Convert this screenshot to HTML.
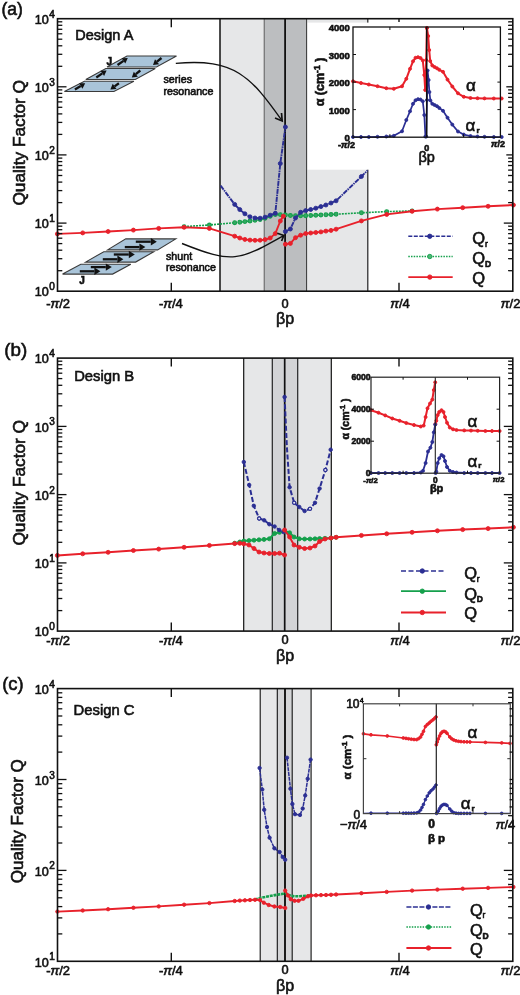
<!DOCTYPE html>
<html><head><meta charset="utf-8"><title>Quality factor figure</title>
<style>html,body{margin:0;padding:0;background:#fff}svg{display:block}text{font-family:"Liberation Sans", sans-serif;fill:#111;stroke:#111;stroke-width:0.6px}</style>
</head><body>
<svg width="520" height="995" viewBox="0 0 520 995">
<rect x="0" y="0" width="520" height="995" fill="#fff"/>
<rect x="220.0" y="18.7" width="44.0" height="272.5" fill="#e6e7e8" stroke="none" stroke-width="0"/>
<rect x="264.0" y="18.7" width="42.5" height="272.5" fill="#bcbec0" stroke="none" stroke-width="0"/>
<rect x="306.5" y="18.7" width="61.5" height="272.5" fill="#e6e7e8" stroke="none" stroke-width="0"/>
<line x1="367.8" y1="18.7" x2="367.8" y2="291.2" stroke="#222" stroke-width="1.2"/>
<rect x="307.3" y="22.6" width="205.5" height="147.1" fill="#fff" stroke="none" stroke-width="0"/>
<line x1="220.0" y1="18.7" x2="220.0" y2="291.2" stroke="#111" stroke-width="1.5"/>
<line x1="264.2" y1="18.7" x2="264.2" y2="291.2" stroke="#555" stroke-width="0.9"/>
<line x1="306.6" y1="18.7" x2="306.6" y2="291.2" stroke="#333" stroke-width="1.0"/>
<line x1="285.1" y1="18.7" x2="285.1" y2="291.2" stroke="#111" stroke-width="1.8"/>
<polyline points="184.1,226.6 209.4,225.0 234.7,222.7 239.8,222.2 244.9,221.6 250.0,221.0 255.0,220.3 260.1,219.5 265.1,218.3 270.2,216.3 275.3,214.6 280.3,214.6 285.4,215.0 290.4,215.5 295.5,215.8 300.6,215.8 305.7,215.7 310.7,215.5 315.8,215.3 320.9,215.0 325.9,214.8 331.0,214.5 336.1,214.2 361.4,212.8 386.7,211.6 412.1,210.9" fill="none" stroke="#15a04c" stroke-width="1.6" stroke-linejoin="round" stroke-dasharray="2,1"/>
<circle cx="184.1" cy="226.6" r="1.9" fill="#35a862" stroke="#15a04c" stroke-width="1.1"/>
<circle cx="209.4" cy="225.0" r="1.9" fill="#35a862" stroke="#15a04c" stroke-width="1.1"/>
<circle cx="234.7" cy="222.7" r="1.9" fill="#35a862" stroke="#15a04c" stroke-width="1.1"/>
<circle cx="239.8" cy="222.2" r="1.9" fill="#35a862" stroke="#15a04c" stroke-width="1.1"/>
<circle cx="244.9" cy="221.6" r="1.9" fill="#35a862" stroke="#15a04c" stroke-width="1.1"/>
<circle cx="250.0" cy="221.0" r="1.9" fill="#35a862" stroke="#15a04c" stroke-width="1.1"/>
<circle cx="255.0" cy="220.3" r="1.9" fill="#35a862" stroke="#15a04c" stroke-width="1.1"/>
<circle cx="260.1" cy="219.5" r="1.9" fill="#35a862" stroke="#15a04c" stroke-width="1.1"/>
<circle cx="265.1" cy="218.3" r="1.9" fill="#35a862" stroke="#15a04c" stroke-width="1.1"/>
<circle cx="270.2" cy="216.3" r="1.9" fill="#35a862" stroke="#15a04c" stroke-width="1.1"/>
<circle cx="275.3" cy="214.6" r="1.9" fill="#35a862" stroke="#15a04c" stroke-width="1.1"/>
<circle cx="280.3" cy="214.6" r="1.9" fill="#35a862" stroke="#15a04c" stroke-width="1.1"/>
<circle cx="285.4" cy="215.0" r="1.9" fill="#35a862" stroke="#15a04c" stroke-width="1.1"/>
<circle cx="290.4" cy="215.5" r="1.9" fill="#35a862" stroke="#15a04c" stroke-width="1.1"/>
<circle cx="295.5" cy="215.8" r="1.9" fill="#35a862" stroke="#15a04c" stroke-width="1.1"/>
<circle cx="300.6" cy="215.8" r="1.9" fill="#35a862" stroke="#15a04c" stroke-width="1.1"/>
<circle cx="305.7" cy="215.7" r="1.9" fill="#35a862" stroke="#15a04c" stroke-width="1.1"/>
<circle cx="310.7" cy="215.5" r="1.9" fill="#35a862" stroke="#15a04c" stroke-width="1.1"/>
<circle cx="315.8" cy="215.3" r="1.9" fill="#35a862" stroke="#15a04c" stroke-width="1.1"/>
<circle cx="320.9" cy="215.0" r="1.9" fill="#35a862" stroke="#15a04c" stroke-width="1.1"/>
<circle cx="325.9" cy="214.8" r="1.9" fill="#35a862" stroke="#15a04c" stroke-width="1.1"/>
<circle cx="331.0" cy="214.5" r="1.9" fill="#35a862" stroke="#15a04c" stroke-width="1.1"/>
<circle cx="336.1" cy="214.2" r="1.9" fill="#35a862" stroke="#15a04c" stroke-width="1.1"/>
<circle cx="361.4" cy="212.8" r="1.9" fill="#35a862" stroke="#15a04c" stroke-width="1.1"/>
<circle cx="386.7" cy="211.6" r="1.9" fill="#35a862" stroke="#15a04c" stroke-width="1.1"/>
<circle cx="412.1" cy="210.9" r="1.9" fill="#35a862" stroke="#15a04c" stroke-width="1.1"/>
<polyline points="220.6,185.6 234.7,204.4 239.8,209.6 244.9,213.8 250.0,216.8 255.0,218.0 260.1,218.2 265.1,217.2 270.2,215.2 275.3,213.3 280.3,163.5 285.4,127.0" fill="none" stroke="#2b2f93" stroke-width="1.9" stroke-linejoin="round" stroke-dasharray="5,0.8,1.5,0.8"/>
<circle cx="234.7" cy="204.4" r="2.0" fill="#2b2f93" stroke="#2b2f93" stroke-width="0.9"/>
<circle cx="239.8" cy="209.6" r="2.0" fill="#2b2f93" stroke="#2b2f93" stroke-width="0.9"/>
<circle cx="244.9" cy="213.8" r="2.0" fill="#2b2f93" stroke="#2b2f93" stroke-width="0.9"/>
<circle cx="250.0" cy="216.8" r="2.0" fill="#2b2f93" stroke="#2b2f93" stroke-width="0.9"/>
<circle cx="255.0" cy="218.0" r="2.0" fill="#2b2f93" stroke="#2b2f93" stroke-width="0.9"/>
<circle cx="260.1" cy="218.2" r="2.0" fill="#2b2f93" stroke="#2b2f93" stroke-width="0.9"/>
<circle cx="265.1" cy="217.2" r="2.0" fill="#2b2f93" stroke="#2b2f93" stroke-width="0.9"/>
<circle cx="270.2" cy="215.2" r="2.0" fill="#2b2f93" stroke="#2b2f93" stroke-width="0.9"/>
<circle cx="275.3" cy="213.3" r="2.0" fill="#2b2f93" stroke="#2b2f93" stroke-width="0.9"/>
<circle cx="280.3" cy="163.5" r="2.0" fill="#2b2f93" stroke="#2b2f93" stroke-width="0.9"/>
<circle cx="285.4" cy="127.0" r="2.0" fill="#2b2f93" stroke="#2b2f93" stroke-width="0.9"/>
<polyline points="285.4,231.5 290.4,229.0 295.5,218.0 300.6,212.3 305.7,210.6 310.7,209.5 315.8,208.2 320.9,206.6 325.9,205.0 331.0,203.0 336.1,200.8 361.4,176.5 367.5,170.5" fill="none" stroke="#2b2f93" stroke-width="1.9" stroke-linejoin="round" stroke-dasharray="5,0.8,1.5,0.8"/>
<circle cx="285.4" cy="231.5" r="2.0" fill="#2b2f93" stroke="#2b2f93" stroke-width="0.9"/>
<circle cx="290.4" cy="229.0" r="2.0" fill="#2b2f93" stroke="#2b2f93" stroke-width="0.9"/>
<circle cx="295.5" cy="218.0" r="2.0" fill="#2b2f93" stroke="#2b2f93" stroke-width="0.9"/>
<circle cx="300.6" cy="212.3" r="2.0" fill="#2b2f93" stroke="#2b2f93" stroke-width="0.9"/>
<circle cx="305.7" cy="210.6" r="2.0" fill="#2b2f93" stroke="#2b2f93" stroke-width="0.9"/>
<circle cx="310.7" cy="209.5" r="2.0" fill="#2b2f93" stroke="#2b2f93" stroke-width="0.9"/>
<circle cx="315.8" cy="208.2" r="2.0" fill="#2b2f93" stroke="#2b2f93" stroke-width="0.9"/>
<circle cx="320.9" cy="206.6" r="2.0" fill="#2b2f93" stroke="#2b2f93" stroke-width="0.9"/>
<circle cx="325.9" cy="205.0" r="2.0" fill="#2b2f93" stroke="#2b2f93" stroke-width="0.9"/>
<circle cx="331.0" cy="203.0" r="2.0" fill="#2b2f93" stroke="#2b2f93" stroke-width="0.9"/>
<circle cx="336.1" cy="200.8" r="2.0" fill="#2b2f93" stroke="#2b2f93" stroke-width="0.9"/>
<circle cx="361.4" cy="176.5" r="2.0" fill="#2b2f93" stroke="#2b2f93" stroke-width="0.9"/>
<polyline points="57.4,233.9 82.7,232.9 108.1,231.5 133.4,230.1 158.7,228.4 184.1,227.3 209.4,228.4 234.7,236.2 239.8,238.0 244.9,239.4 250.0,240.1 255.0,240.3 260.1,240.2 265.1,239.6 270.2,238.0 275.3,233.6 280.3,221.0 283.3,216.2 285.4,216.0" fill="none" stroke="#e8212b" stroke-width="1.9" stroke-linejoin="round"/>
<circle cx="57.4" cy="233.9" r="2.0" fill="#e8212b" stroke="#e8212b" stroke-width="0.9"/>
<circle cx="82.7" cy="232.9" r="2.0" fill="#e8212b" stroke="#e8212b" stroke-width="0.9"/>
<circle cx="108.1" cy="231.5" r="2.0" fill="#e8212b" stroke="#e8212b" stroke-width="0.9"/>
<circle cx="133.4" cy="230.1" r="2.0" fill="#e8212b" stroke="#e8212b" stroke-width="0.9"/>
<circle cx="158.7" cy="228.4" r="2.0" fill="#e8212b" stroke="#e8212b" stroke-width="0.9"/>
<circle cx="184.1" cy="227.3" r="2.0" fill="#e8212b" stroke="#e8212b" stroke-width="0.9"/>
<circle cx="209.4" cy="228.4" r="2.0" fill="#e8212b" stroke="#e8212b" stroke-width="0.9"/>
<circle cx="234.7" cy="236.2" r="2.0" fill="#e8212b" stroke="#e8212b" stroke-width="0.9"/>
<circle cx="239.8" cy="238.0" r="2.0" fill="#e8212b" stroke="#e8212b" stroke-width="0.9"/>
<circle cx="244.9" cy="239.4" r="2.0" fill="#e8212b" stroke="#e8212b" stroke-width="0.9"/>
<circle cx="250.0" cy="240.1" r="2.0" fill="#e8212b" stroke="#e8212b" stroke-width="0.9"/>
<circle cx="255.0" cy="240.3" r="2.0" fill="#e8212b" stroke="#e8212b" stroke-width="0.9"/>
<circle cx="260.1" cy="240.2" r="2.0" fill="#e8212b" stroke="#e8212b" stroke-width="0.9"/>
<circle cx="265.1" cy="239.6" r="2.0" fill="#e8212b" stroke="#e8212b" stroke-width="0.9"/>
<circle cx="270.2" cy="238.0" r="2.0" fill="#e8212b" stroke="#e8212b" stroke-width="0.9"/>
<circle cx="275.3" cy="233.6" r="2.0" fill="#e8212b" stroke="#e8212b" stroke-width="0.9"/>
<circle cx="280.3" cy="221.0" r="2.0" fill="#e8212b" stroke="#e8212b" stroke-width="0.9"/>
<circle cx="283.3" cy="216.2" r="2.0" fill="#e8212b" stroke="#e8212b" stroke-width="0.9"/>
<polyline points="285.4,244.2 290.4,243.4 295.5,237.7 300.6,235.2 305.7,233.6 310.7,233.0 315.8,232.5 320.9,231.9 325.9,231.1 331.0,230.4 336.1,229.2 361.4,220.9 386.7,214.4 412.1,211.3 437.4,209.1 462.7,207.7 488.1,206.3 513.4,205.0" fill="none" stroke="#e8212b" stroke-width="1.9" stroke-linejoin="round"/>
<circle cx="285.4" cy="244.2" r="2.0" fill="#e8212b" stroke="#e8212b" stroke-width="0.9"/>
<circle cx="290.4" cy="243.4" r="2.0" fill="#e8212b" stroke="#e8212b" stroke-width="0.9"/>
<circle cx="295.5" cy="237.7" r="2.0" fill="#e8212b" stroke="#e8212b" stroke-width="0.9"/>
<circle cx="300.6" cy="235.2" r="2.0" fill="#e8212b" stroke="#e8212b" stroke-width="0.9"/>
<circle cx="305.7" cy="233.6" r="2.0" fill="#e8212b" stroke="#e8212b" stroke-width="0.9"/>
<circle cx="310.7" cy="233.0" r="2.0" fill="#e8212b" stroke="#e8212b" stroke-width="0.9"/>
<circle cx="315.8" cy="232.5" r="2.0" fill="#e8212b" stroke="#e8212b" stroke-width="0.9"/>
<circle cx="320.9" cy="231.9" r="2.0" fill="#e8212b" stroke="#e8212b" stroke-width="0.9"/>
<circle cx="325.9" cy="231.1" r="2.0" fill="#e8212b" stroke="#e8212b" stroke-width="0.9"/>
<circle cx="331.0" cy="230.4" r="2.0" fill="#e8212b" stroke="#e8212b" stroke-width="0.9"/>
<circle cx="336.1" cy="229.2" r="2.0" fill="#e8212b" stroke="#e8212b" stroke-width="0.9"/>
<circle cx="361.4" cy="220.9" r="2.0" fill="#e8212b" stroke="#e8212b" stroke-width="0.9"/>
<circle cx="386.7" cy="214.4" r="2.0" fill="#e8212b" stroke="#e8212b" stroke-width="0.9"/>
<circle cx="412.1" cy="211.3" r="2.0" fill="#e8212b" stroke="#e8212b" stroke-width="0.9"/>
<circle cx="437.4" cy="209.1" r="2.0" fill="#e8212b" stroke="#e8212b" stroke-width="0.9"/>
<circle cx="462.7" cy="207.7" r="2.0" fill="#e8212b" stroke="#e8212b" stroke-width="0.9"/>
<circle cx="488.1" cy="206.3" r="2.0" fill="#e8212b" stroke="#e8212b" stroke-width="0.9"/>
<circle cx="513.4" cy="205.0" r="2.0" fill="#e8212b" stroke="#e8212b" stroke-width="0.9"/>
<polygon points="127.0,56.0 176.5,56.0 156.5,67.0 107.0,67.0" fill="#a9c4d9" stroke="#3a3a3a" stroke-width="1.1" stroke-linejoin="miter"/>
<line x1="117.5" y1="65.0" x2="123.5" y2="60.9" stroke="#111" stroke-width="2.3"/>
<polygon points="127.8,58.0 125.3,63.6 121.7,58.3" fill="#111"/>
<line x1="161.5" y1="58.0" x2="157.0" y2="61.7" stroke="#111" stroke-width="2.3"/>
<polygon points="153.0,65.0 155.0,59.2 159.1,64.2" fill="#111"/>
<polygon points="105.8,68.5 155.3,68.5 135.3,79.5 85.8,79.5" fill="#a9c4d9" stroke="#3a3a3a" stroke-width="1.1" stroke-linejoin="miter"/>
<line x1="96.3" y1="77.5" x2="102.3" y2="73.4" stroke="#111" stroke-width="2.3"/>
<polygon points="106.6,70.5 104.1,76.1 100.5,70.8" fill="#111"/>
<line x1="140.3" y1="70.5" x2="135.8" y2="74.2" stroke="#111" stroke-width="2.3"/>
<polygon points="131.8,77.5 133.8,71.7 137.9,76.7" fill="#111"/>
<polygon points="84.4,81.3 133.9,81.3 113.9,91.5 64.4,91.5" fill="#a9c4d9" stroke="#3a3a3a" stroke-width="1.1" stroke-linejoin="miter"/>
<line x1="74.9" y1="89.5" x2="80.7" y2="86.0" stroke="#111" stroke-width="2.3"/>
<polygon points="85.2,83.3 82.4,88.7 79.1,83.2" fill="#111"/>
<line x1="118.9" y1="83.3" x2="114.6" y2="86.4" stroke="#111" stroke-width="2.3"/>
<polygon points="110.4,89.5 112.7,83.8 116.5,89.0" fill="#111"/>
<text x="109.3" y="64.6" font-size="10" text-anchor="middle" font-weight="bold" stroke-width="0.15" >J</text>
<text x="163.5" y="83.4" font-size="10.7" text-anchor="start" font-weight="normal" stroke-width="0.8" >series</text>
<text x="163.5" y="95.0" font-size="10.7" text-anchor="start" font-weight="normal" stroke-width="0.8" >resonance</text>
<path d="M175.8,63.4 C234.7,58 250.8,76.6 282,120.6" fill="none" stroke="#111" stroke-width="1.4"/>
<polyline points="275,118 282.2,121 281.5,113" fill="none" stroke="#111" stroke-width="1.7" stroke-linejoin="miter"/>
<polygon points="125.8,238.9 175.8,238.9 157.6,249.9 107.6,249.9" fill="#a9c4d9" stroke="#3a3a3a" stroke-width="1.1" stroke-linejoin="miter"/>
<line x1="135.8" y1="241.7" x2="150.8" y2="241.7" stroke="#111" stroke-width="2.3"/>
<polygon points="156.8,241.7 150.8,245.4 150.8,238.0" fill="#111"/>
<line x1="124.8" y1="247.1" x2="139.4" y2="247.1" stroke="#111" stroke-width="2.3"/>
<polygon points="145.4,247.1 139.4,250.8 139.4,243.4" fill="#111"/>
<polygon points="103.8,251.7 153.8,251.7 135.6,262.1 85.6,262.1" fill="#a9c4d9" stroke="#3a3a3a" stroke-width="1.1" stroke-linejoin="miter"/>
<line x1="113.8" y1="254.5" x2="128.8" y2="254.5" stroke="#111" stroke-width="2.3"/>
<polygon points="134.8,254.5 128.8,258.2 128.8,250.8" fill="#111"/>
<line x1="102.8" y1="259.3" x2="117.4" y2="259.3" stroke="#111" stroke-width="2.3"/>
<polygon points="123.4,259.3 117.4,263.0 117.4,255.6" fill="#111"/>
<polygon points="80.8,264.3 130.8,264.3 112.6,274.1 62.6,274.1" fill="#a9c4d9" stroke="#3a3a3a" stroke-width="1.1" stroke-linejoin="miter"/>
<line x1="90.8" y1="267.1" x2="105.8" y2="267.1" stroke="#111" stroke-width="2.3"/>
<polygon points="111.8,267.1 105.8,270.8 105.8,263.4" fill="#111"/>
<line x1="79.8" y1="271.3" x2="94.4" y2="271.3" stroke="#111" stroke-width="2.3"/>
<polygon points="100.4,271.3 94.4,275.0 94.4,267.6" fill="#111"/>
<text x="82.0" y="284.3" font-size="10" text-anchor="middle" font-weight="bold" stroke-width="0.15" >J</text>
<text x="166.0" y="259.6" font-size="10.7" text-anchor="start" font-weight="normal" stroke-width="0.8" >shunt</text>
<text x="166.0" y="270.8" font-size="10.7" text-anchor="start" font-weight="normal" stroke-width="0.8" >resonance</text>
<path d="M182,243.5 C233.1,263.9 238.6,260.8 283.3,235.8" fill="none" stroke="#111" stroke-width="1.4"/>
<polyline points="277.3,233.3 283.8,235.5 281.6,241" fill="none" stroke="#111" stroke-width="1.7" stroke-linejoin="miter"/>
<text x="75.3" y="40.2" font-size="14.5" text-anchor="start" font-weight="normal" stroke-width="0.8" >Design A</text>
<polyline points="353.0,81.3 361.0,83.0 368.8,84.5 377.5,86.2 386.3,88.2 393.8,88.8 402.0,86.3 406.3,78.8 410.0,68.8 413.0,61.3 415.5,57.8 418.0,57.2 420.5,58.0 422.8,60.5 424.3,75.0 425.2,90.0 426.2,60.0 426.9,28.0" fill="none" stroke="#e8212b" stroke-width="2.0" stroke-linejoin="round"/>
<circle cx="353.0" cy="81.3" r="1.5" fill="#e8212b" stroke="#e8212b" stroke-width="0.9"/>
<circle cx="361.0" cy="83.0" r="1.5" fill="#e8212b" stroke="#e8212b" stroke-width="0.9"/>
<circle cx="368.8" cy="84.5" r="1.5" fill="#e8212b" stroke="#e8212b" stroke-width="0.9"/>
<circle cx="377.5" cy="86.2" r="1.5" fill="#e8212b" stroke="#e8212b" stroke-width="0.9"/>
<circle cx="386.3" cy="88.2" r="1.5" fill="#e8212b" stroke="#e8212b" stroke-width="0.9"/>
<circle cx="393.8" cy="88.8" r="1.5" fill="#e8212b" stroke="#e8212b" stroke-width="0.9"/>
<circle cx="402.0" cy="86.3" r="1.5" fill="#e8212b" stroke="#e8212b" stroke-width="0.9"/>
<circle cx="406.3" cy="78.8" r="1.5" fill="#e8212b" stroke="#e8212b" stroke-width="0.9"/>
<circle cx="410.0" cy="68.8" r="1.5" fill="#e8212b" stroke="#e8212b" stroke-width="0.9"/>
<circle cx="413.0" cy="61.3" r="1.5" fill="#e8212b" stroke="#e8212b" stroke-width="0.9"/>
<circle cx="415.5" cy="57.8" r="1.5" fill="#e8212b" stroke="#e8212b" stroke-width="0.9"/>
<circle cx="418.0" cy="57.2" r="1.5" fill="#e8212b" stroke="#e8212b" stroke-width="0.9"/>
<circle cx="420.5" cy="58.0" r="1.5" fill="#e8212b" stroke="#e8212b" stroke-width="0.9"/>
<circle cx="422.8" cy="60.5" r="1.5" fill="#e8212b" stroke="#e8212b" stroke-width="0.9"/>
<circle cx="424.3" cy="75.0" r="1.5" fill="#e8212b" stroke="#e8212b" stroke-width="0.9"/>
<circle cx="425.2" cy="90.0" r="1.5" fill="#e8212b" stroke="#e8212b" stroke-width="0.9"/>
<circle cx="426.2" cy="60.0" r="1.5" fill="#e8212b" stroke="#e8212b" stroke-width="0.9"/>
<circle cx="426.9" cy="28.0" r="1.5" fill="#e8212b" stroke="#e8212b" stroke-width="0.9"/>
<polyline points="426.9,28.0 428.2,36.0 429.2,50.0 430.2,61.0 432.3,65.5 434.6,67.0 437.0,68.3 439.3,69.8 443.0,71.8 447.5,79.6 452.3,86.5 458.0,93.3 463.8,96.8 470.5,98.0 477.5,98.2 484.5,98.4 493.8,98.5 501.7,98.5" fill="none" stroke="#e8212b" stroke-width="2.0" stroke-linejoin="round"/>
<circle cx="426.9" cy="28.0" r="1.5" fill="#e8212b" stroke="#e8212b" stroke-width="0.9"/>
<circle cx="428.2" cy="36.0" r="1.5" fill="#e8212b" stroke="#e8212b" stroke-width="0.9"/>
<circle cx="429.2" cy="50.0" r="1.5" fill="#e8212b" stroke="#e8212b" stroke-width="0.9"/>
<circle cx="430.2" cy="61.0" r="1.5" fill="#e8212b" stroke="#e8212b" stroke-width="0.9"/>
<circle cx="432.3" cy="65.5" r="1.5" fill="#e8212b" stroke="#e8212b" stroke-width="0.9"/>
<circle cx="434.6" cy="67.0" r="1.5" fill="#e8212b" stroke="#e8212b" stroke-width="0.9"/>
<circle cx="437.0" cy="68.3" r="1.5" fill="#e8212b" stroke="#e8212b" stroke-width="0.9"/>
<circle cx="439.3" cy="69.8" r="1.5" fill="#e8212b" stroke="#e8212b" stroke-width="0.9"/>
<circle cx="443.0" cy="71.8" r="1.5" fill="#e8212b" stroke="#e8212b" stroke-width="0.9"/>
<circle cx="447.5" cy="79.6" r="1.5" fill="#e8212b" stroke="#e8212b" stroke-width="0.9"/>
<circle cx="452.3" cy="86.5" r="1.5" fill="#e8212b" stroke="#e8212b" stroke-width="0.9"/>
<circle cx="458.0" cy="93.3" r="1.5" fill="#e8212b" stroke="#e8212b" stroke-width="0.9"/>
<circle cx="463.8" cy="96.8" r="1.5" fill="#e8212b" stroke="#e8212b" stroke-width="0.9"/>
<circle cx="470.5" cy="98.0" r="1.5" fill="#e8212b" stroke="#e8212b" stroke-width="0.9"/>
<circle cx="477.5" cy="98.2" r="1.5" fill="#e8212b" stroke="#e8212b" stroke-width="0.9"/>
<circle cx="484.5" cy="98.4" r="1.5" fill="#e8212b" stroke="#e8212b" stroke-width="0.9"/>
<circle cx="493.8" cy="98.5" r="1.5" fill="#e8212b" stroke="#e8212b" stroke-width="0.9"/>
<circle cx="501.7" cy="98.5" r="1.5" fill="#e8212b" stroke="#e8212b" stroke-width="0.9"/>
<polyline points="353.0,137.0 361.0,137.0 368.8,137.0 377.5,136.8 386.3,136.5 393.8,135.8 402.0,131.3 406.3,120.0 410.0,111.3 413.0,103.8 415.5,100.3 418.0,99.2 420.5,99.5 422.8,101.3 424.3,115.0 425.4,136.5" fill="none" stroke="#2b2f93" stroke-width="1.7" stroke-linejoin="round"/>
<circle cx="353.0" cy="137.0" r="1.5" fill="#2b2f93" stroke="#2b2f93" stroke-width="0.9"/>
<circle cx="361.0" cy="137.0" r="1.5" fill="#2b2f93" stroke="#2b2f93" stroke-width="0.9"/>
<circle cx="368.8" cy="137.0" r="1.5" fill="#2b2f93" stroke="#2b2f93" stroke-width="0.9"/>
<circle cx="377.5" cy="136.8" r="1.5" fill="#2b2f93" stroke="#2b2f93" stroke-width="0.9"/>
<circle cx="386.3" cy="136.5" r="1.5" fill="#2b2f93" stroke="#2b2f93" stroke-width="0.9"/>
<circle cx="393.8" cy="135.8" r="1.5" fill="#2b2f93" stroke="#2b2f93" stroke-width="0.9"/>
<circle cx="402.0" cy="131.3" r="1.5" fill="#2b2f93" stroke="#2b2f93" stroke-width="0.9"/>
<circle cx="406.3" cy="120.0" r="1.5" fill="#2b2f93" stroke="#2b2f93" stroke-width="0.9"/>
<circle cx="410.0" cy="111.3" r="1.5" fill="#2b2f93" stroke="#2b2f93" stroke-width="0.9"/>
<circle cx="413.0" cy="103.8" r="1.5" fill="#2b2f93" stroke="#2b2f93" stroke-width="0.9"/>
<circle cx="415.5" cy="100.3" r="1.5" fill="#2b2f93" stroke="#2b2f93" stroke-width="0.9"/>
<circle cx="418.0" cy="99.2" r="1.5" fill="#2b2f93" stroke="#2b2f93" stroke-width="0.9"/>
<circle cx="420.5" cy="99.5" r="1.5" fill="#2b2f93" stroke="#2b2f93" stroke-width="0.9"/>
<circle cx="422.8" cy="101.3" r="1.5" fill="#2b2f93" stroke="#2b2f93" stroke-width="0.9"/>
<circle cx="424.3" cy="115.0" r="1.5" fill="#2b2f93" stroke="#2b2f93" stroke-width="0.9"/>
<circle cx="425.4" cy="136.5" r="1.5" fill="#2b2f93" stroke="#2b2f93" stroke-width="0.9"/>
<polyline points="426.2,136.5 427.0,100.0 427.6,70.5 428.6,80.0 429.4,92.0 430.4,100.4 432.3,103.8 434.6,105.0 437.0,106.2 439.3,108.0 443.0,110.8 447.5,117.7 452.3,124.6 458.0,131.5 463.8,134.6 470.5,136.0 477.5,136.5 484.5,136.8 493.8,137.0 501.7,137.0" fill="none" stroke="#2b2f93" stroke-width="1.7" stroke-linejoin="round"/>
<circle cx="426.2" cy="136.5" r="1.5" fill="#2b2f93" stroke="#2b2f93" stroke-width="0.9"/>
<circle cx="427.0" cy="100.0" r="1.5" fill="#2b2f93" stroke="#2b2f93" stroke-width="0.9"/>
<circle cx="427.6" cy="70.5" r="1.5" fill="#2b2f93" stroke="#2b2f93" stroke-width="0.9"/>
<circle cx="428.6" cy="80.0" r="1.5" fill="#2b2f93" stroke="#2b2f93" stroke-width="0.9"/>
<circle cx="429.4" cy="92.0" r="1.5" fill="#2b2f93" stroke="#2b2f93" stroke-width="0.9"/>
<circle cx="430.4" cy="100.4" r="1.5" fill="#2b2f93" stroke="#2b2f93" stroke-width="0.9"/>
<circle cx="432.3" cy="103.8" r="1.5" fill="#2b2f93" stroke="#2b2f93" stroke-width="0.9"/>
<circle cx="434.6" cy="105.0" r="1.5" fill="#2b2f93" stroke="#2b2f93" stroke-width="0.9"/>
<circle cx="437.0" cy="106.2" r="1.5" fill="#2b2f93" stroke="#2b2f93" stroke-width="0.9"/>
<circle cx="439.3" cy="108.0" r="1.5" fill="#2b2f93" stroke="#2b2f93" stroke-width="0.9"/>
<circle cx="443.0" cy="110.8" r="1.5" fill="#2b2f93" stroke="#2b2f93" stroke-width="0.9"/>
<circle cx="447.5" cy="117.7" r="1.5" fill="#2b2f93" stroke="#2b2f93" stroke-width="0.9"/>
<circle cx="452.3" cy="124.6" r="1.5" fill="#2b2f93" stroke="#2b2f93" stroke-width="0.9"/>
<circle cx="458.0" cy="131.5" r="1.5" fill="#2b2f93" stroke="#2b2f93" stroke-width="0.9"/>
<circle cx="463.8" cy="134.6" r="1.5" fill="#2b2f93" stroke="#2b2f93" stroke-width="0.9"/>
<circle cx="470.5" cy="136.0" r="1.5" fill="#2b2f93" stroke="#2b2f93" stroke-width="0.9"/>
<circle cx="477.5" cy="136.5" r="1.5" fill="#2b2f93" stroke="#2b2f93" stroke-width="0.9"/>
<circle cx="484.5" cy="136.8" r="1.5" fill="#2b2f93" stroke="#2b2f93" stroke-width="0.9"/>
<circle cx="493.8" cy="137.0" r="1.5" fill="#2b2f93" stroke="#2b2f93" stroke-width="0.9"/>
<circle cx="501.7" cy="137.0" r="1.5" fill="#2b2f93" stroke="#2b2f93" stroke-width="0.9"/>
<line x1="426.7" y1="27.0" x2="426.7" y2="137.2" stroke="#111" stroke-width="1.5"/>
<rect x="353.0" y="27.0" width="147.4" height="110.2" fill="none" stroke="#111" stroke-width="1.3"/>
<text x="349.8" y="141.2" font-size="9.5" text-anchor="end" font-weight="bold" stroke-width="0.15" >0</text>
<text x="349.8" y="113.6" font-size="9.5" text-anchor="end" font-weight="bold" stroke-width="0.15" >1000</text>
<line x1="353.0" y1="109.6" x2="356.0" y2="109.6" stroke="#111" stroke-width="1"/>
<line x1="500.4" y1="109.6" x2="497.4" y2="109.6" stroke="#111" stroke-width="1"/>
<text x="349.8" y="86.1" font-size="9.5" text-anchor="end" font-weight="bold" stroke-width="0.15" >2000</text>
<line x1="353.0" y1="82.1" x2="356.0" y2="82.1" stroke="#111" stroke-width="1"/>
<line x1="500.4" y1="82.1" x2="497.4" y2="82.1" stroke="#111" stroke-width="1"/>
<text x="349.8" y="58.5" font-size="9.5" text-anchor="end" font-weight="bold" stroke-width="0.15" >3000</text>
<line x1="353.0" y1="54.5" x2="356.0" y2="54.5" stroke="#111" stroke-width="1"/>
<line x1="500.4" y1="54.5" x2="497.4" y2="54.5" stroke="#111" stroke-width="1"/>
<text x="349.8" y="31.0" font-size="9.5" text-anchor="end" font-weight="bold" stroke-width="0.15" >4000</text>
<line x1="389.9" y1="27.0" x2="389.9" y2="30.0" stroke="#111" stroke-width="1"/>
<line x1="389.9" y1="137.2" x2="389.9" y2="134.2" stroke="#111" stroke-width="1"/>
<line x1="463.5" y1="27.0" x2="463.5" y2="30.0" stroke="#111" stroke-width="1"/>
<line x1="463.5" y1="137.2" x2="463.5" y2="134.2" stroke="#111" stroke-width="1"/>
<text transform="translate(323.8,82.0) rotate(-90)" font-size="12.5" text-anchor="middle" font-weight="bold" stroke-width="0.15" >α (cm<tspan dy="-4" font-size="8.5">-1</tspan><tspan dy="4"> )</tspan></text>
<text x="346.5" y="148.3" font-size="9" text-anchor="middle" font-weight="bold" stroke-width="0.15" >-<tspan font-style="italic">π</tspan>/2</text>
<text x="426.7" y="151.0" font-size="9" text-anchor="middle" font-weight="bold" stroke-width="0.15" >0</text>
<text x="498.0" y="147.0" font-size="9" text-anchor="middle" font-weight="bold" stroke-width="0.15" ><tspan font-style="italic">π</tspan>/2</text>
<text x="426.7" y="162.0" font-size="14.5" text-anchor="middle" font-weight="normal" >βp</text>
<text x="470.8" y="91.3" font-size="17" text-anchor="middle" font-weight="normal" stroke-width="0.8" >α</text>
<text x="470.5" y="131.3" font-size="17" text-anchor="middle" font-weight="normal" stroke-width="0.8" >α</text>
<text x="476.6" y="133.0" font-size="8" text-anchor="start" font-weight="bold" stroke-width="0.15" >r</text>
<line x1="57.5" y1="270.7" x2="62.3" y2="270.7" stroke="#111" stroke-width="1.3"/>
<line x1="512.8" y1="270.7" x2="508.1" y2="270.7" stroke="#111" stroke-width="1.3"/>
<line x1="57.5" y1="258.7" x2="62.3" y2="258.7" stroke="#111" stroke-width="1.3"/>
<line x1="512.8" y1="258.7" x2="508.1" y2="258.7" stroke="#111" stroke-width="1.3"/>
<line x1="57.5" y1="250.2" x2="62.3" y2="250.2" stroke="#111" stroke-width="1.3"/>
<line x1="512.8" y1="250.2" x2="508.1" y2="250.2" stroke="#111" stroke-width="1.3"/>
<line x1="57.5" y1="243.6" x2="62.3" y2="243.6" stroke="#111" stroke-width="1.3"/>
<line x1="512.8" y1="243.6" x2="508.1" y2="243.6" stroke="#111" stroke-width="1.3"/>
<line x1="57.5" y1="238.2" x2="62.3" y2="238.2" stroke="#111" stroke-width="1.3"/>
<line x1="512.8" y1="238.2" x2="508.1" y2="238.2" stroke="#111" stroke-width="1.3"/>
<line x1="57.5" y1="233.6" x2="62.3" y2="233.6" stroke="#111" stroke-width="1.3"/>
<line x1="512.8" y1="233.6" x2="508.1" y2="233.6" stroke="#111" stroke-width="1.3"/>
<line x1="57.5" y1="229.7" x2="62.3" y2="229.7" stroke="#111" stroke-width="1.3"/>
<line x1="512.8" y1="229.7" x2="508.1" y2="229.7" stroke="#111" stroke-width="1.3"/>
<line x1="57.5" y1="226.2" x2="62.3" y2="226.2" stroke="#111" stroke-width="1.3"/>
<line x1="512.8" y1="226.2" x2="508.1" y2="226.2" stroke="#111" stroke-width="1.3"/>
<text x="48.8" y="296.4" font-size="12.6" text-anchor="end" font-weight="normal" >10</text>
<text x="49.3" y="290.2" font-size="10" text-anchor="start" font-weight="normal" >0</text>
<line x1="57.5" y1="223.1" x2="66.5" y2="223.1" stroke="#111" stroke-width="1.3"/>
<line x1="512.8" y1="223.1" x2="503.8" y2="223.1" stroke="#111" stroke-width="1.3"/>
<line x1="57.5" y1="202.6" x2="62.3" y2="202.6" stroke="#111" stroke-width="1.3"/>
<line x1="512.8" y1="202.6" x2="508.1" y2="202.6" stroke="#111" stroke-width="1.3"/>
<line x1="57.5" y1="190.6" x2="62.3" y2="190.6" stroke="#111" stroke-width="1.3"/>
<line x1="512.8" y1="190.6" x2="508.1" y2="190.6" stroke="#111" stroke-width="1.3"/>
<line x1="57.5" y1="182.1" x2="62.3" y2="182.1" stroke="#111" stroke-width="1.3"/>
<line x1="512.8" y1="182.1" x2="508.1" y2="182.1" stroke="#111" stroke-width="1.3"/>
<line x1="57.5" y1="175.5" x2="62.3" y2="175.5" stroke="#111" stroke-width="1.3"/>
<line x1="512.8" y1="175.5" x2="508.1" y2="175.5" stroke="#111" stroke-width="1.3"/>
<line x1="57.5" y1="170.1" x2="62.3" y2="170.1" stroke="#111" stroke-width="1.3"/>
<line x1="512.8" y1="170.1" x2="508.1" y2="170.1" stroke="#111" stroke-width="1.3"/>
<line x1="57.5" y1="165.5" x2="62.3" y2="165.5" stroke="#111" stroke-width="1.3"/>
<line x1="512.8" y1="165.5" x2="508.1" y2="165.5" stroke="#111" stroke-width="1.3"/>
<line x1="57.5" y1="161.6" x2="62.3" y2="161.6" stroke="#111" stroke-width="1.3"/>
<line x1="512.8" y1="161.6" x2="508.1" y2="161.6" stroke="#111" stroke-width="1.3"/>
<line x1="57.5" y1="158.1" x2="62.3" y2="158.1" stroke="#111" stroke-width="1.3"/>
<line x1="512.8" y1="158.1" x2="508.1" y2="158.1" stroke="#111" stroke-width="1.3"/>
<text x="48.8" y="228.3" font-size="12.6" text-anchor="end" font-weight="normal" >10</text>
<text x="49.3" y="222.1" font-size="10" text-anchor="start" font-weight="normal" >1</text>
<line x1="57.5" y1="154.9" x2="66.5" y2="154.9" stroke="#111" stroke-width="1.3"/>
<line x1="512.8" y1="154.9" x2="506.3" y2="154.9" stroke="#111" stroke-width="1.3"/>
<line x1="57.5" y1="134.4" x2="62.3" y2="134.4" stroke="#111" stroke-width="1.3"/>
<line x1="512.8" y1="134.4" x2="508.1" y2="134.4" stroke="#111" stroke-width="1.3"/>
<line x1="57.5" y1="122.4" x2="62.3" y2="122.4" stroke="#111" stroke-width="1.3"/>
<line x1="512.8" y1="122.4" x2="508.1" y2="122.4" stroke="#111" stroke-width="1.3"/>
<line x1="57.5" y1="113.9" x2="62.3" y2="113.9" stroke="#111" stroke-width="1.3"/>
<line x1="512.8" y1="113.9" x2="508.1" y2="113.9" stroke="#111" stroke-width="1.3"/>
<line x1="57.5" y1="107.3" x2="62.3" y2="107.3" stroke="#111" stroke-width="1.3"/>
<line x1="512.8" y1="107.3" x2="508.1" y2="107.3" stroke="#111" stroke-width="1.3"/>
<line x1="57.5" y1="101.9" x2="62.3" y2="101.9" stroke="#111" stroke-width="1.3"/>
<line x1="512.8" y1="101.9" x2="508.1" y2="101.9" stroke="#111" stroke-width="1.3"/>
<line x1="57.5" y1="97.4" x2="62.3" y2="97.4" stroke="#111" stroke-width="1.3"/>
<line x1="512.8" y1="97.4" x2="508.1" y2="97.4" stroke="#111" stroke-width="1.3"/>
<line x1="57.5" y1="93.4" x2="62.3" y2="93.4" stroke="#111" stroke-width="1.3"/>
<line x1="512.8" y1="93.4" x2="508.1" y2="93.4" stroke="#111" stroke-width="1.3"/>
<line x1="57.5" y1="89.9" x2="62.3" y2="89.9" stroke="#111" stroke-width="1.3"/>
<line x1="512.8" y1="89.9" x2="508.1" y2="89.9" stroke="#111" stroke-width="1.3"/>
<text x="48.8" y="160.1" font-size="12.6" text-anchor="end" font-weight="normal" >10</text>
<text x="49.3" y="153.9" font-size="10" text-anchor="start" font-weight="normal" >2</text>
<line x1="57.5" y1="86.8" x2="66.5" y2="86.8" stroke="#111" stroke-width="1.3"/>
<line x1="512.8" y1="86.8" x2="506.3" y2="86.8" stroke="#111" stroke-width="1.3"/>
<line x1="57.5" y1="66.3" x2="62.3" y2="66.3" stroke="#111" stroke-width="1.3"/>
<line x1="512.8" y1="66.3" x2="508.1" y2="66.3" stroke="#111" stroke-width="1.3"/>
<line x1="57.5" y1="54.3" x2="62.3" y2="54.3" stroke="#111" stroke-width="1.3"/>
<line x1="512.8" y1="54.3" x2="508.1" y2="54.3" stroke="#111" stroke-width="1.3"/>
<line x1="57.5" y1="45.8" x2="62.3" y2="45.8" stroke="#111" stroke-width="1.3"/>
<line x1="512.8" y1="45.8" x2="508.1" y2="45.8" stroke="#111" stroke-width="1.3"/>
<line x1="57.5" y1="39.2" x2="62.3" y2="39.2" stroke="#111" stroke-width="1.3"/>
<line x1="512.8" y1="39.2" x2="508.1" y2="39.2" stroke="#111" stroke-width="1.3"/>
<line x1="57.5" y1="33.8" x2="62.3" y2="33.8" stroke="#111" stroke-width="1.3"/>
<line x1="512.8" y1="33.8" x2="508.1" y2="33.8" stroke="#111" stroke-width="1.3"/>
<line x1="57.5" y1="29.3" x2="62.3" y2="29.3" stroke="#111" stroke-width="1.3"/>
<line x1="512.8" y1="29.3" x2="508.1" y2="29.3" stroke="#111" stroke-width="1.3"/>
<line x1="57.5" y1="25.3" x2="62.3" y2="25.3" stroke="#111" stroke-width="1.3"/>
<line x1="512.8" y1="25.3" x2="508.1" y2="25.3" stroke="#111" stroke-width="1.3"/>
<line x1="57.5" y1="21.8" x2="62.3" y2="21.8" stroke="#111" stroke-width="1.3"/>
<line x1="512.8" y1="21.8" x2="508.1" y2="21.8" stroke="#111" stroke-width="1.3"/>
<text x="48.8" y="92.0" font-size="12.6" text-anchor="end" font-weight="normal" >10</text>
<text x="49.3" y="85.8" font-size="10" text-anchor="start" font-weight="normal" >3</text>
<text x="48.8" y="23.9" font-size="12.6" text-anchor="end" font-weight="normal" >10</text>
<text x="49.3" y="17.7" font-size="10" text-anchor="start" font-weight="normal" >4</text>
<line x1="171.3" y1="291.2" x2="171.3" y2="282.7" stroke="#111" stroke-width="1.4"/>
<line x1="171.3" y1="18.7" x2="171.3" y2="27.2" stroke="#111" stroke-width="1.4"/>
<line x1="399.0" y1="291.2" x2="399.0" y2="282.7" stroke="#111" stroke-width="1.4"/>
<line x1="399.0" y1="18.7" x2="399.0" y2="22.0" stroke="#111" stroke-width="1.4"/>
<rect x="57.5" y="18.7" width="455.3" height="272.5" fill="none" stroke="#111" stroke-width="1.6"/>
<text x="58.1" y="307.8" font-size="13" text-anchor="middle" font-weight="normal" >-<tspan font-style="italic">π</tspan>/2</text>
<text x="170.9" y="307.8" font-size="13" text-anchor="middle" font-weight="normal" >-<tspan font-style="italic">π</tspan>/4</text>
<text x="285.1" y="307.5" font-size="12.8" text-anchor="middle" font-weight="normal" >0</text>
<text x="400.0" y="307.8" font-size="13" text-anchor="middle" font-weight="normal" ><tspan font-style="italic">π</tspan>/4</text>
<text x="510.6" y="307.8" font-size="13" text-anchor="middle" font-weight="normal" ><tspan font-style="italic">π</tspan>/2</text>
<text x="285.1" y="324.0" font-size="16" text-anchor="middle" font-weight="normal" >βp</text>
<text transform="translate(25.0,142.8) rotate(-90)" font-size="17" text-anchor="middle" font-weight="normal" textLength="125.5" lengthAdjust="spacingAndGlyphs">Quality Factor Q</text>
<text x="1.5" y="15.2" font-size="17.5" text-anchor="start" font-weight="normal" stroke-width="0.8" >(a)</text>
<polyline points="408.3,236.3 452.7,236.3" fill="none" stroke="#2b2f93" stroke-width="1.5" stroke-linejoin="round" stroke-dasharray="4,1.5"/>
<circle cx="429.8" cy="236.3" r="2.2" fill="#2b2f93" stroke="#2b2f93" stroke-width="0.9"/>
<text x="472.3" y="244.4" font-size="16.5" text-anchor="start" font-weight="normal" stroke-width="0.8" >Q</text>
<text x="484.9" y="246.9" font-size="8.5" text-anchor="start" font-weight="normal" >r</text>
<polyline points="408.3,256.5 452.7,256.5" fill="none" stroke="#15a04c" stroke-width="1.6" stroke-linejoin="round" stroke-dasharray="1.5,1.2"/>
<circle cx="429.8" cy="256.5" r="2.2" fill="#4fb777" stroke="#15a04c" stroke-width="0.9"/>
<text x="472.3" y="264.4" font-size="16.5" text-anchor="start" font-weight="normal" stroke-width="0.8" >Q</text>
<text x="484.9" y="266.9" font-size="8.5" text-anchor="start" font-weight="bold" stroke-width="0.15" >D</text>
<polyline points="408.3,277.1 452.7,277.1" fill="none" stroke="#e8212b" stroke-width="1.8" stroke-linejoin="round"/>
<circle cx="429.8" cy="277.1" r="2.2" fill="#e8212b" stroke="#e8212b" stroke-width="0.9"/>
<text x="472.3" y="283.8" font-size="16.5" text-anchor="start" font-weight="normal" stroke-width="0.8" >Q</text>
<rect x="243.7" y="358.1" width="28.6" height="273.0" fill="#e6e7e8" stroke="none" stroke-width="0"/>
<rect x="272.3" y="358.1" width="25.4" height="273.0" fill="#d3d4d6" stroke="none" stroke-width="0"/>
<rect x="297.7" y="358.1" width="33.6" height="273.0" fill="#e6e7e8" stroke="none" stroke-width="0"/>
<line x1="243.7" y1="358.1" x2="243.7" y2="631.1" stroke="#111" stroke-width="1.2"/>
<line x1="272.3" y1="358.1" x2="272.3" y2="631.1" stroke="#222" stroke-width="1.2"/>
<line x1="297.7" y1="358.1" x2="297.7" y2="631.1" stroke="#222" stroke-width="1.2"/>
<line x1="331.3" y1="358.1" x2="331.3" y2="631.1" stroke="#111" stroke-width="1.2"/>
<line x1="284.7" y1="358.1" x2="284.7" y2="631.1" stroke="#111" stroke-width="1.7"/>
<polyline points="234.7,543.2 239.8,542.0 243.8,541.0 249.0,540.6 254.0,540.2 259.0,539.8 264.0,539.4 269.3,538.8 274.6,533.5 279.5,532.3 284.6,530.7 289.6,532.8 294.0,537.0 299.3,538.8 304.6,539.0 310.0,539.0 315.0,538.8 319.6,538.6 325.0,538.3 331.0,538.0 336.1,537.3" fill="none" stroke="#15a04c" stroke-width="2.0" stroke-linejoin="round"/>
<circle cx="234.7" cy="543.2" r="2.0" fill="#15a04c" stroke="#15a04c" stroke-width="0.9"/>
<circle cx="239.8" cy="542.0" r="2.0" fill="#15a04c" stroke="#15a04c" stroke-width="0.9"/>
<circle cx="243.8" cy="541.0" r="2.0" fill="#15a04c" stroke="#15a04c" stroke-width="0.9"/>
<circle cx="249.0" cy="540.6" r="2.0" fill="#15a04c" stroke="#15a04c" stroke-width="0.9"/>
<circle cx="254.0" cy="540.2" r="2.0" fill="#15a04c" stroke="#15a04c" stroke-width="0.9"/>
<circle cx="259.0" cy="539.8" r="2.0" fill="#15a04c" stroke="#15a04c" stroke-width="0.9"/>
<circle cx="264.0" cy="539.4" r="2.0" fill="#15a04c" stroke="#15a04c" stroke-width="0.9"/>
<circle cx="269.3" cy="538.8" r="2.0" fill="#15a04c" stroke="#15a04c" stroke-width="0.9"/>
<circle cx="274.6" cy="533.5" r="2.0" fill="#15a04c" stroke="#15a04c" stroke-width="0.9"/>
<circle cx="279.5" cy="532.3" r="2.0" fill="#15a04c" stroke="#15a04c" stroke-width="0.9"/>
<circle cx="284.6" cy="530.7" r="2.0" fill="#15a04c" stroke="#15a04c" stroke-width="0.9"/>
<circle cx="289.6" cy="532.8" r="2.0" fill="#15a04c" stroke="#15a04c" stroke-width="0.9"/>
<circle cx="294.0" cy="537.0" r="2.0" fill="#15a04c" stroke="#15a04c" stroke-width="0.9"/>
<circle cx="299.3" cy="538.8" r="2.0" fill="#15a04c" stroke="#15a04c" stroke-width="0.9"/>
<circle cx="304.6" cy="539.0" r="2.0" fill="#15a04c" stroke="#15a04c" stroke-width="0.9"/>
<circle cx="310.0" cy="539.0" r="2.0" fill="#15a04c" stroke="#15a04c" stroke-width="0.9"/>
<circle cx="315.0" cy="538.8" r="2.0" fill="#15a04c" stroke="#15a04c" stroke-width="0.9"/>
<circle cx="319.6" cy="538.6" r="2.0" fill="#15a04c" stroke="#15a04c" stroke-width="0.9"/>
<circle cx="325.0" cy="538.3" r="2.0" fill="#15a04c" stroke="#15a04c" stroke-width="0.9"/>
<circle cx="331.0" cy="538.0" r="2.0" fill="#15a04c" stroke="#15a04c" stroke-width="0.9"/>
<circle cx="336.1" cy="537.3" r="2.0" fill="#15a04c" stroke="#15a04c" stroke-width="0.9"/>
<polyline points="243.8,462.0 249.2,485.0 253.8,505.8 259.2,518.5 264.2,520.3 269.3,524.2 274.6,526.5 279.2,530.0 283.5,532.0" fill="none" stroke="#2b2f93" stroke-width="2.0" stroke-linejoin="round" stroke-dasharray="5,2.2"/>
<circle cx="243.8" cy="462.0" r="1.75" fill="#2b2f93" stroke="#2b2f93" stroke-width="0.9"/>
<circle cx="249.2" cy="485.0" r="1.75" fill="#2b2f93" stroke="#2b2f93" stroke-width="0.9"/>
<circle cx="253.8" cy="505.8" r="1.75" fill="#2b2f93" stroke="#2b2f93" stroke-width="0.9"/>
<circle cx="259.2" cy="518.5" r="1.75" fill="#2b2f93" stroke="#2b2f93" stroke-width="0.9"/>
<circle cx="264.2" cy="520.3" r="1.75" fill="#2b2f93" stroke="#2b2f93" stroke-width="0.9"/>
<circle cx="269.3" cy="524.2" r="1.75" fill="#2b2f93" stroke="#2b2f93" stroke-width="0.9"/>
<circle cx="274.6" cy="526.5" r="1.75" fill="#2b2f93" stroke="#2b2f93" stroke-width="0.9"/>
<circle cx="279.2" cy="530.0" r="1.75" fill="#2b2f93" stroke="#2b2f93" stroke-width="0.9"/>
<circle cx="283.5" cy="532.0" r="1.75" fill="#2b2f93" stroke="#2b2f93" stroke-width="0.9"/>
<polyline points="284.6,397.0 286.9,447.0 289.6,487.3 294.2,502.8 299.3,507.0 304.6,511.0 310.0,508.8 315.0,502.8 319.6,488.5 325.4,470.0 330.7,449.7" fill="none" stroke="#2b2f93" stroke-width="2.0" stroke-linejoin="round" stroke-dasharray="5,2.2"/>
<circle cx="284.6" cy="397.0" r="1.75" fill="#2b2f93" stroke="#2b2f93" stroke-width="0.9"/>
<circle cx="289.6" cy="487.3" r="1.75" fill="#2b2f93" stroke="#2b2f93" stroke-width="0.9"/>
<circle cx="294.2" cy="502.8" r="1.75" fill="#2b2f93" stroke="#2b2f93" stroke-width="0.9"/>
<circle cx="299.3" cy="507.0" r="1.75" fill="#2b2f93" stroke="#2b2f93" stroke-width="0.9"/>
<circle cx="304.6" cy="511.0" r="1.75" fill="#2b2f93" stroke="#2b2f93" stroke-width="0.9"/>
<circle cx="310.0" cy="508.8" r="1.75" fill="#2b2f93" stroke="#2b2f93" stroke-width="0.9"/>
<circle cx="315.0" cy="502.8" r="1.75" fill="#2b2f93" stroke="#2b2f93" stroke-width="0.9"/>
<circle cx="319.6" cy="488.5" r="1.75" fill="#2b2f93" stroke="#2b2f93" stroke-width="0.9"/>
<circle cx="325.4" cy="470.0" r="1.75" fill="#2b2f93" stroke="#2b2f93" stroke-width="0.9"/>
<circle cx="330.7" cy="449.7" r="1.75" fill="#2b2f93" stroke="#2b2f93" stroke-width="0.9"/>
<circle cx="259.2" cy="518.5" r="1.6" fill="#e9eaf4" stroke="#2b2f93" stroke-width="1.1"/>
<circle cx="294.2" cy="502.8" r="1.6" fill="#e9eaf4" stroke="#2b2f93" stroke-width="1.1"/>
<circle cx="310.0" cy="508.8" r="1.6" fill="#e9eaf4" stroke="#2b2f93" stroke-width="1.1"/>
<circle cx="325.4" cy="470.0" r="1.6" fill="#e9eaf4" stroke="#2b2f93" stroke-width="1.1"/>
<polyline points="57.4,555.4 82.7,553.8 108.1,552.3 133.4,550.5 158.7,549.1 184.1,547.3 209.4,545.4 234.7,543.6 239.8,543.3 243.8,543.8 249.0,545.0 254.0,548.5 259.0,552.0 264.0,553.0 269.3,553.5 274.6,553.5 279.5,553.2 284.6,555.0" fill="none" stroke="#e8212b" stroke-width="2.0" stroke-linejoin="round"/>
<circle cx="57.4" cy="555.4" r="2.0" fill="#e8212b" stroke="#e8212b" stroke-width="0.9"/>
<circle cx="82.7" cy="553.8" r="2.0" fill="#e8212b" stroke="#e8212b" stroke-width="0.9"/>
<circle cx="108.1" cy="552.3" r="2.0" fill="#e8212b" stroke="#e8212b" stroke-width="0.9"/>
<circle cx="133.4" cy="550.5" r="2.0" fill="#e8212b" stroke="#e8212b" stroke-width="0.9"/>
<circle cx="158.7" cy="549.1" r="2.0" fill="#e8212b" stroke="#e8212b" stroke-width="0.9"/>
<circle cx="184.1" cy="547.3" r="2.0" fill="#e8212b" stroke="#e8212b" stroke-width="0.9"/>
<circle cx="209.4" cy="545.4" r="2.0" fill="#e8212b" stroke="#e8212b" stroke-width="0.9"/>
<circle cx="234.7" cy="543.6" r="2.0" fill="#e8212b" stroke="#e8212b" stroke-width="0.9"/>
<circle cx="239.8" cy="543.3" r="2.0" fill="#e8212b" stroke="#e8212b" stroke-width="0.9"/>
<circle cx="243.8" cy="543.8" r="2.0" fill="#e8212b" stroke="#e8212b" stroke-width="0.9"/>
<circle cx="249.0" cy="545.0" r="2.0" fill="#e8212b" stroke="#e8212b" stroke-width="0.9"/>
<circle cx="254.0" cy="548.5" r="2.0" fill="#e8212b" stroke="#e8212b" stroke-width="0.9"/>
<circle cx="259.0" cy="552.0" r="2.0" fill="#e8212b" stroke="#e8212b" stroke-width="0.9"/>
<circle cx="264.0" cy="553.0" r="2.0" fill="#e8212b" stroke="#e8212b" stroke-width="0.9"/>
<circle cx="269.3" cy="553.5" r="2.0" fill="#e8212b" stroke="#e8212b" stroke-width="0.9"/>
<circle cx="274.6" cy="553.5" r="2.0" fill="#e8212b" stroke="#e8212b" stroke-width="0.9"/>
<circle cx="279.5" cy="553.2" r="2.0" fill="#e8212b" stroke="#e8212b" stroke-width="0.9"/>
<circle cx="284.6" cy="555.0" r="2.0" fill="#e8212b" stroke="#e8212b" stroke-width="0.9"/>
<polyline points="284.6,530.0 289.6,537.0 294.0,545.0 299.3,547.3 304.6,548.5 310.0,548.0 315.0,546.0 319.6,541.5 325.0,539.0 331.0,538.0 336.1,537.3 361.4,535.4 386.7,533.8 412.1,532.3 437.4,530.8 462.7,529.6 488.1,528.6 513.4,527.3" fill="none" stroke="#e8212b" stroke-width="2.0" stroke-linejoin="round"/>
<circle cx="284.6" cy="530.0" r="2.0" fill="#e8212b" stroke="#e8212b" stroke-width="0.9"/>
<circle cx="289.6" cy="537.0" r="2.0" fill="#e8212b" stroke="#e8212b" stroke-width="0.9"/>
<circle cx="294.0" cy="545.0" r="2.0" fill="#e8212b" stroke="#e8212b" stroke-width="0.9"/>
<circle cx="299.3" cy="547.3" r="2.0" fill="#e8212b" stroke="#e8212b" stroke-width="0.9"/>
<circle cx="304.6" cy="548.5" r="2.0" fill="#e8212b" stroke="#e8212b" stroke-width="0.9"/>
<circle cx="310.0" cy="548.0" r="2.0" fill="#e8212b" stroke="#e8212b" stroke-width="0.9"/>
<circle cx="315.0" cy="546.0" r="2.0" fill="#e8212b" stroke="#e8212b" stroke-width="0.9"/>
<circle cx="319.6" cy="541.5" r="2.0" fill="#e8212b" stroke="#e8212b" stroke-width="0.9"/>
<circle cx="325.0" cy="539.0" r="2.0" fill="#e8212b" stroke="#e8212b" stroke-width="0.9"/>
<circle cx="331.0" cy="538.0" r="2.0" fill="#e8212b" stroke="#e8212b" stroke-width="0.9"/>
<circle cx="336.1" cy="537.3" r="2.0" fill="#e8212b" stroke="#e8212b" stroke-width="0.9"/>
<circle cx="361.4" cy="535.4" r="2.0" fill="#e8212b" stroke="#e8212b" stroke-width="0.9"/>
<circle cx="386.7" cy="533.8" r="2.0" fill="#e8212b" stroke="#e8212b" stroke-width="0.9"/>
<circle cx="412.1" cy="532.3" r="2.0" fill="#e8212b" stroke="#e8212b" stroke-width="0.9"/>
<circle cx="437.4" cy="530.8" r="2.0" fill="#e8212b" stroke="#e8212b" stroke-width="0.9"/>
<circle cx="462.7" cy="529.6" r="2.0" fill="#e8212b" stroke="#e8212b" stroke-width="0.9"/>
<circle cx="488.1" cy="528.6" r="2.0" fill="#e8212b" stroke="#e8212b" stroke-width="0.9"/>
<circle cx="513.4" cy="527.3" r="2.0" fill="#e8212b" stroke="#e8212b" stroke-width="0.9"/>
<text x="74.2" y="381.4" font-size="14.8" text-anchor="start" font-weight="normal" stroke-width="0.8" >Design B</text>
<polyline points="371.0,410.2 378.5,412.7 385.2,415.4 392.3,418.5 399.6,420.8 406.3,423.0 414.0,425.0 420.8,426.5 423.7,425.6 425.6,417.0 427.5,408.3 430.0,403.5 432.3,399.6 433.8,390.0 435.2,382.3" fill="none" stroke="#e8212b" stroke-width="2.0" stroke-linejoin="round"/>
<circle cx="371.0" cy="410.2" r="1.5" fill="#e8212b" stroke="#e8212b" stroke-width="0.9"/>
<circle cx="378.5" cy="412.7" r="1.5" fill="#e8212b" stroke="#e8212b" stroke-width="0.9"/>
<circle cx="385.2" cy="415.4" r="1.5" fill="#e8212b" stroke="#e8212b" stroke-width="0.9"/>
<circle cx="392.3" cy="418.5" r="1.5" fill="#e8212b" stroke="#e8212b" stroke-width="0.9"/>
<circle cx="399.6" cy="420.8" r="1.5" fill="#e8212b" stroke="#e8212b" stroke-width="0.9"/>
<circle cx="406.3" cy="423.0" r="1.5" fill="#e8212b" stroke="#e8212b" stroke-width="0.9"/>
<circle cx="414.0" cy="425.0" r="1.5" fill="#e8212b" stroke="#e8212b" stroke-width="0.9"/>
<circle cx="420.8" cy="426.5" r="1.5" fill="#e8212b" stroke="#e8212b" stroke-width="0.9"/>
<circle cx="423.7" cy="425.6" r="1.5" fill="#e8212b" stroke="#e8212b" stroke-width="0.9"/>
<circle cx="425.6" cy="417.0" r="1.5" fill="#e8212b" stroke="#e8212b" stroke-width="0.9"/>
<circle cx="427.5" cy="408.3" r="1.5" fill="#e8212b" stroke="#e8212b" stroke-width="0.9"/>
<circle cx="430.0" cy="403.5" r="1.5" fill="#e8212b" stroke="#e8212b" stroke-width="0.9"/>
<circle cx="432.3" cy="399.6" r="1.5" fill="#e8212b" stroke="#e8212b" stroke-width="0.9"/>
<circle cx="433.8" cy="390.0" r="1.5" fill="#e8212b" stroke="#e8212b" stroke-width="0.9"/>
<circle cx="435.2" cy="382.3" r="1.5" fill="#e8212b" stroke="#e8212b" stroke-width="0.9"/>
<polyline points="435.4,424.0 436.3,420.8 437.7,415.0 439.2,412.0 441.5,410.2 443.5,412.0 445.0,417.0 447.0,422.7 449.8,427.5 453.0,429.3 456.5,430.0 464.2,430.4 471.0,430.6 477.7,430.8 485.4,431.0 492.0,431.0 499.6,431.0" fill="none" stroke="#e8212b" stroke-width="2.0" stroke-linejoin="round"/>
<circle cx="435.4" cy="424.0" r="1.5" fill="#e8212b" stroke="#e8212b" stroke-width="0.9"/>
<circle cx="436.3" cy="420.8" r="1.5" fill="#e8212b" stroke="#e8212b" stroke-width="0.9"/>
<circle cx="437.7" cy="415.0" r="1.5" fill="#e8212b" stroke="#e8212b" stroke-width="0.9"/>
<circle cx="439.2" cy="412.0" r="1.5" fill="#e8212b" stroke="#e8212b" stroke-width="0.9"/>
<circle cx="441.5" cy="410.2" r="1.5" fill="#e8212b" stroke="#e8212b" stroke-width="0.9"/>
<circle cx="443.5" cy="412.0" r="1.5" fill="#e8212b" stroke="#e8212b" stroke-width="0.9"/>
<circle cx="445.0" cy="417.0" r="1.5" fill="#e8212b" stroke="#e8212b" stroke-width="0.9"/>
<circle cx="447.0" cy="422.7" r="1.5" fill="#e8212b" stroke="#e8212b" stroke-width="0.9"/>
<circle cx="449.8" cy="427.5" r="1.5" fill="#e8212b" stroke="#e8212b" stroke-width="0.9"/>
<circle cx="453.0" cy="429.3" r="1.5" fill="#e8212b" stroke="#e8212b" stroke-width="0.9"/>
<circle cx="456.5" cy="430.0" r="1.5" fill="#e8212b" stroke="#e8212b" stroke-width="0.9"/>
<circle cx="464.2" cy="430.4" r="1.5" fill="#e8212b" stroke="#e8212b" stroke-width="0.9"/>
<circle cx="471.0" cy="430.6" r="1.5" fill="#e8212b" stroke="#e8212b" stroke-width="0.9"/>
<circle cx="477.7" cy="430.8" r="1.5" fill="#e8212b" stroke="#e8212b" stroke-width="0.9"/>
<circle cx="485.4" cy="431.0" r="1.5" fill="#e8212b" stroke="#e8212b" stroke-width="0.9"/>
<circle cx="492.0" cy="431.0" r="1.5" fill="#e8212b" stroke="#e8212b" stroke-width="0.9"/>
<circle cx="499.6" cy="431.0" r="1.5" fill="#e8212b" stroke="#e8212b" stroke-width="0.9"/>
<polyline points="371.0,473.0 378.5,473.0 385.2,473.0 392.3,473.0 399.6,473.0 406.3,473.0 414.0,473.0 420.8,472.5 423.0,470.8 425.6,463.0 428.0,451.5 430.4,447.7 432.3,442.0 433.8,432.3 435.2,424.6" fill="none" stroke="#2b2f93" stroke-width="1.8" stroke-linejoin="round"/>
<circle cx="371.0" cy="473.0" r="1.5" fill="#2b2f93" stroke="#2b2f93" stroke-width="0.9"/>
<circle cx="378.5" cy="473.0" r="1.5" fill="#2b2f93" stroke="#2b2f93" stroke-width="0.9"/>
<circle cx="385.2" cy="473.0" r="1.5" fill="#2b2f93" stroke="#2b2f93" stroke-width="0.9"/>
<circle cx="392.3" cy="473.0" r="1.5" fill="#2b2f93" stroke="#2b2f93" stroke-width="0.9"/>
<circle cx="399.6" cy="473.0" r="1.5" fill="#2b2f93" stroke="#2b2f93" stroke-width="0.9"/>
<circle cx="406.3" cy="473.0" r="1.5" fill="#2b2f93" stroke="#2b2f93" stroke-width="0.9"/>
<circle cx="414.0" cy="473.0" r="1.5" fill="#2b2f93" stroke="#2b2f93" stroke-width="0.9"/>
<circle cx="420.8" cy="472.5" r="1.5" fill="#2b2f93" stroke="#2b2f93" stroke-width="0.9"/>
<circle cx="423.0" cy="470.8" r="1.5" fill="#2b2f93" stroke="#2b2f93" stroke-width="0.9"/>
<circle cx="425.6" cy="463.0" r="1.5" fill="#2b2f93" stroke="#2b2f93" stroke-width="0.9"/>
<circle cx="428.0" cy="451.5" r="1.5" fill="#2b2f93" stroke="#2b2f93" stroke-width="0.9"/>
<circle cx="430.4" cy="447.7" r="1.5" fill="#2b2f93" stroke="#2b2f93" stroke-width="0.9"/>
<circle cx="432.3" cy="442.0" r="1.5" fill="#2b2f93" stroke="#2b2f93" stroke-width="0.9"/>
<circle cx="433.8" cy="432.3" r="1.5" fill="#2b2f93" stroke="#2b2f93" stroke-width="0.9"/>
<circle cx="435.2" cy="424.6" r="1.5" fill="#2b2f93" stroke="#2b2f93" stroke-width="0.9"/>
<polyline points="435.6,473.0 436.3,471.7 437.7,463.0 439.2,458.3 441.5,455.0 443.5,456.3 445.0,461.0 447.0,467.0 449.8,470.8 453.0,472.0 456.5,472.5 464.2,473.0 471.0,473.0 477.7,473.0 485.4,473.0 492.0,473.0 499.6,473.0" fill="none" stroke="#2b2f93" stroke-width="1.8" stroke-linejoin="round"/>
<circle cx="435.6" cy="473.0" r="1.5" fill="#2b2f93" stroke="#2b2f93" stroke-width="0.9"/>
<circle cx="436.3" cy="471.7" r="1.5" fill="#2b2f93" stroke="#2b2f93" stroke-width="0.9"/>
<circle cx="437.7" cy="463.0" r="1.5" fill="#2b2f93" stroke="#2b2f93" stroke-width="0.9"/>
<circle cx="439.2" cy="458.3" r="1.5" fill="#2b2f93" stroke="#2b2f93" stroke-width="0.9"/>
<circle cx="441.5" cy="455.0" r="1.5" fill="#2b2f93" stroke="#2b2f93" stroke-width="0.9"/>
<circle cx="443.5" cy="456.3" r="1.5" fill="#2b2f93" stroke="#2b2f93" stroke-width="0.9"/>
<circle cx="445.0" cy="461.0" r="1.5" fill="#2b2f93" stroke="#2b2f93" stroke-width="0.9"/>
<circle cx="447.0" cy="467.0" r="1.5" fill="#2b2f93" stroke="#2b2f93" stroke-width="0.9"/>
<circle cx="449.8" cy="470.8" r="1.5" fill="#2b2f93" stroke="#2b2f93" stroke-width="0.9"/>
<circle cx="453.0" cy="472.0" r="1.5" fill="#2b2f93" stroke="#2b2f93" stroke-width="0.9"/>
<circle cx="456.5" cy="472.5" r="1.5" fill="#2b2f93" stroke="#2b2f93" stroke-width="0.9"/>
<circle cx="464.2" cy="473.0" r="1.5" fill="#2b2f93" stroke="#2b2f93" stroke-width="0.9"/>
<circle cx="471.0" cy="473.0" r="1.5" fill="#2b2f93" stroke="#2b2f93" stroke-width="0.9"/>
<circle cx="477.7" cy="473.0" r="1.5" fill="#2b2f93" stroke="#2b2f93" stroke-width="0.9"/>
<circle cx="485.4" cy="473.0" r="1.5" fill="#2b2f93" stroke="#2b2f93" stroke-width="0.9"/>
<circle cx="492.0" cy="473.0" r="1.5" fill="#2b2f93" stroke="#2b2f93" stroke-width="0.9"/>
<circle cx="499.6" cy="473.0" r="1.5" fill="#2b2f93" stroke="#2b2f93" stroke-width="0.9"/>
<line x1="435.3" y1="377.2" x2="435.3" y2="473.2" stroke="#222" stroke-width="1.1"/>
<rect x="371.0" y="377.2" width="128.6" height="96.0" fill="none" stroke="#222" stroke-width="1.2"/>
<text x="370.6" y="476.4" font-size="8.6" text-anchor="end" font-weight="bold" stroke-width="0.15" >0</text>
<text x="370.6" y="444.4" font-size="8.6" text-anchor="end" font-weight="bold" stroke-width="0.15" >2000</text>
<line x1="371.0" y1="441.2" x2="374.0" y2="441.2" stroke="#111" stroke-width="1"/>
<line x1="499.6" y1="441.2" x2="496.6" y2="441.2" stroke="#111" stroke-width="1"/>
<text x="370.6" y="412.4" font-size="8.6" text-anchor="end" font-weight="bold" stroke-width="0.15" >4000</text>
<line x1="371.0" y1="409.2" x2="374.0" y2="409.2" stroke="#111" stroke-width="1"/>
<line x1="499.6" y1="409.2" x2="496.6" y2="409.2" stroke="#111" stroke-width="1"/>
<text x="370.6" y="380.4" font-size="8.6" text-anchor="end" font-weight="bold" stroke-width="0.15" >6000</text>
<line x1="403.1" y1="377.2" x2="403.1" y2="379.7" stroke="#111" stroke-width="1"/>
<line x1="403.1" y1="473.2" x2="403.1" y2="470.7" stroke="#111" stroke-width="1"/>
<line x1="467.5" y1="377.2" x2="467.5" y2="379.7" stroke="#111" stroke-width="1"/>
<line x1="467.5" y1="473.2" x2="467.5" y2="470.7" stroke="#111" stroke-width="1"/>
<text transform="translate(348.6,419.0) rotate(-90)" font-size="10.5" text-anchor="middle" font-weight="bold" stroke-width="0.15" >α (cm<tspan dy="-3.5" font-size="7.5">-1</tspan><tspan dy="3.5"> )</tspan></text>
<text x="370.5" y="482.6" font-size="7.6" text-anchor="middle" font-weight="bold" stroke-width="0.15" >-<tspan font-style="italic">π</tspan>/2</text>
<text x="435.3" y="482.8" font-size="8.3" text-anchor="middle" font-weight="bold" stroke-width="0.15" >0</text>
<text x="498.5" y="482.4" font-size="7.6" text-anchor="middle" font-weight="bold" stroke-width="0.15" ><tspan font-style="italic">π</tspan>/2</text>
<text x="436.6" y="492.2" font-size="11" text-anchor="middle" font-weight="bold" stroke-width="0.15" >βp</text>
<text x="472.5" y="426.6" font-size="17" text-anchor="middle" font-weight="normal" stroke-width="0.8" >α</text>
<text x="472.5" y="466.6" font-size="17" text-anchor="middle" font-weight="normal" stroke-width="0.8" >α</text>
<text x="478.3" y="467.8" font-size="8" text-anchor="start" font-weight="bold" stroke-width="0.15" >r</text>
<line x1="57.5" y1="610.6" x2="62.3" y2="610.6" stroke="#111" stroke-width="1.3"/>
<line x1="512.8" y1="610.6" x2="508.1" y2="610.6" stroke="#111" stroke-width="1.3"/>
<line x1="57.5" y1="598.5" x2="62.3" y2="598.5" stroke="#111" stroke-width="1.3"/>
<line x1="512.8" y1="598.5" x2="508.1" y2="598.5" stroke="#111" stroke-width="1.3"/>
<line x1="57.5" y1="590.0" x2="62.3" y2="590.0" stroke="#111" stroke-width="1.3"/>
<line x1="512.8" y1="590.0" x2="508.1" y2="590.0" stroke="#111" stroke-width="1.3"/>
<line x1="57.5" y1="583.4" x2="62.3" y2="583.4" stroke="#111" stroke-width="1.3"/>
<line x1="512.8" y1="583.4" x2="508.1" y2="583.4" stroke="#111" stroke-width="1.3"/>
<line x1="57.5" y1="578.0" x2="62.3" y2="578.0" stroke="#111" stroke-width="1.3"/>
<line x1="512.8" y1="578.0" x2="508.1" y2="578.0" stroke="#111" stroke-width="1.3"/>
<line x1="57.5" y1="573.4" x2="62.3" y2="573.4" stroke="#111" stroke-width="1.3"/>
<line x1="512.8" y1="573.4" x2="508.1" y2="573.4" stroke="#111" stroke-width="1.3"/>
<line x1="57.5" y1="569.5" x2="62.3" y2="569.5" stroke="#111" stroke-width="1.3"/>
<line x1="512.8" y1="569.5" x2="508.1" y2="569.5" stroke="#111" stroke-width="1.3"/>
<line x1="57.5" y1="566.0" x2="62.3" y2="566.0" stroke="#111" stroke-width="1.3"/>
<line x1="512.8" y1="566.0" x2="508.1" y2="566.0" stroke="#111" stroke-width="1.3"/>
<text x="48.8" y="636.3" font-size="12.6" text-anchor="end" font-weight="normal" >10</text>
<text x="49.3" y="630.1" font-size="10" text-anchor="start" font-weight="normal" >0</text>
<line x1="57.5" y1="562.9" x2="66.5" y2="562.9" stroke="#111" stroke-width="1.3"/>
<line x1="512.8" y1="562.9" x2="503.8" y2="562.9" stroke="#111" stroke-width="1.3"/>
<line x1="57.5" y1="542.3" x2="62.3" y2="542.3" stroke="#111" stroke-width="1.3"/>
<line x1="512.8" y1="542.3" x2="508.1" y2="542.3" stroke="#111" stroke-width="1.3"/>
<line x1="57.5" y1="530.3" x2="62.3" y2="530.3" stroke="#111" stroke-width="1.3"/>
<line x1="512.8" y1="530.3" x2="508.1" y2="530.3" stroke="#111" stroke-width="1.3"/>
<line x1="57.5" y1="521.8" x2="62.3" y2="521.8" stroke="#111" stroke-width="1.3"/>
<line x1="512.8" y1="521.8" x2="508.1" y2="521.8" stroke="#111" stroke-width="1.3"/>
<line x1="57.5" y1="515.1" x2="62.3" y2="515.1" stroke="#111" stroke-width="1.3"/>
<line x1="512.8" y1="515.1" x2="508.1" y2="515.1" stroke="#111" stroke-width="1.3"/>
<line x1="57.5" y1="509.7" x2="62.3" y2="509.7" stroke="#111" stroke-width="1.3"/>
<line x1="512.8" y1="509.7" x2="508.1" y2="509.7" stroke="#111" stroke-width="1.3"/>
<line x1="57.5" y1="505.2" x2="62.3" y2="505.2" stroke="#111" stroke-width="1.3"/>
<line x1="512.8" y1="505.2" x2="508.1" y2="505.2" stroke="#111" stroke-width="1.3"/>
<line x1="57.5" y1="501.2" x2="62.3" y2="501.2" stroke="#111" stroke-width="1.3"/>
<line x1="512.8" y1="501.2" x2="508.1" y2="501.2" stroke="#111" stroke-width="1.3"/>
<line x1="57.5" y1="497.7" x2="62.3" y2="497.7" stroke="#111" stroke-width="1.3"/>
<line x1="512.8" y1="497.7" x2="508.1" y2="497.7" stroke="#111" stroke-width="1.3"/>
<text x="48.8" y="568.1" font-size="12.6" text-anchor="end" font-weight="normal" >10</text>
<text x="49.3" y="561.9" font-size="10" text-anchor="start" font-weight="normal" >1</text>
<line x1="57.5" y1="494.6" x2="66.5" y2="494.6" stroke="#111" stroke-width="1.3"/>
<line x1="512.8" y1="494.6" x2="503.8" y2="494.6" stroke="#111" stroke-width="1.3"/>
<line x1="57.5" y1="474.1" x2="62.3" y2="474.1" stroke="#111" stroke-width="1.3"/>
<line x1="512.8" y1="474.1" x2="508.1" y2="474.1" stroke="#111" stroke-width="1.3"/>
<line x1="57.5" y1="462.0" x2="62.3" y2="462.0" stroke="#111" stroke-width="1.3"/>
<line x1="512.8" y1="462.0" x2="508.1" y2="462.0" stroke="#111" stroke-width="1.3"/>
<line x1="57.5" y1="453.5" x2="62.3" y2="453.5" stroke="#111" stroke-width="1.3"/>
<line x1="512.8" y1="453.5" x2="508.1" y2="453.5" stroke="#111" stroke-width="1.3"/>
<line x1="57.5" y1="446.9" x2="62.3" y2="446.9" stroke="#111" stroke-width="1.3"/>
<line x1="512.8" y1="446.9" x2="508.1" y2="446.9" stroke="#111" stroke-width="1.3"/>
<line x1="57.5" y1="441.5" x2="62.3" y2="441.5" stroke="#111" stroke-width="1.3"/>
<line x1="512.8" y1="441.5" x2="508.1" y2="441.5" stroke="#111" stroke-width="1.3"/>
<line x1="57.5" y1="436.9" x2="62.3" y2="436.9" stroke="#111" stroke-width="1.3"/>
<line x1="512.8" y1="436.9" x2="508.1" y2="436.9" stroke="#111" stroke-width="1.3"/>
<line x1="57.5" y1="433.0" x2="62.3" y2="433.0" stroke="#111" stroke-width="1.3"/>
<line x1="512.8" y1="433.0" x2="508.1" y2="433.0" stroke="#111" stroke-width="1.3"/>
<line x1="57.5" y1="429.5" x2="62.3" y2="429.5" stroke="#111" stroke-width="1.3"/>
<line x1="512.8" y1="429.5" x2="508.1" y2="429.5" stroke="#111" stroke-width="1.3"/>
<text x="48.8" y="499.8" font-size="12.6" text-anchor="end" font-weight="normal" >10</text>
<text x="49.3" y="493.6" font-size="10" text-anchor="start" font-weight="normal" >2</text>
<line x1="57.5" y1="426.4" x2="66.5" y2="426.4" stroke="#111" stroke-width="1.3"/>
<line x1="512.8" y1="426.4" x2="503.8" y2="426.4" stroke="#111" stroke-width="1.3"/>
<line x1="57.5" y1="405.8" x2="62.3" y2="405.8" stroke="#111" stroke-width="1.3"/>
<line x1="512.8" y1="405.8" x2="508.1" y2="405.8" stroke="#111" stroke-width="1.3"/>
<line x1="57.5" y1="393.8" x2="62.3" y2="393.8" stroke="#111" stroke-width="1.3"/>
<line x1="512.8" y1="393.8" x2="508.1" y2="393.8" stroke="#111" stroke-width="1.3"/>
<line x1="57.5" y1="385.3" x2="62.3" y2="385.3" stroke="#111" stroke-width="1.3"/>
<line x1="512.8" y1="385.3" x2="508.1" y2="385.3" stroke="#111" stroke-width="1.3"/>
<line x1="57.5" y1="378.6" x2="62.3" y2="378.6" stroke="#111" stroke-width="1.3"/>
<line x1="512.8" y1="378.6" x2="508.1" y2="378.6" stroke="#111" stroke-width="1.3"/>
<line x1="57.5" y1="373.2" x2="62.3" y2="373.2" stroke="#111" stroke-width="1.3"/>
<line x1="512.8" y1="373.2" x2="508.1" y2="373.2" stroke="#111" stroke-width="1.3"/>
<line x1="57.5" y1="368.7" x2="62.3" y2="368.7" stroke="#111" stroke-width="1.3"/>
<line x1="512.8" y1="368.7" x2="508.1" y2="368.7" stroke="#111" stroke-width="1.3"/>
<line x1="57.5" y1="364.7" x2="62.3" y2="364.7" stroke="#111" stroke-width="1.3"/>
<line x1="512.8" y1="364.7" x2="508.1" y2="364.7" stroke="#111" stroke-width="1.3"/>
<line x1="57.5" y1="361.2" x2="62.3" y2="361.2" stroke="#111" stroke-width="1.3"/>
<line x1="512.8" y1="361.2" x2="508.1" y2="361.2" stroke="#111" stroke-width="1.3"/>
<text x="48.8" y="431.6" font-size="12.6" text-anchor="end" font-weight="normal" >10</text>
<text x="49.3" y="425.4" font-size="10" text-anchor="start" font-weight="normal" >3</text>
<text x="48.8" y="363.3" font-size="12.6" text-anchor="end" font-weight="normal" >10</text>
<text x="49.3" y="357.1" font-size="10" text-anchor="start" font-weight="normal" >4</text>
<line x1="171.3" y1="631.1" x2="171.3" y2="622.6" stroke="#111" stroke-width="1.4"/>
<line x1="171.3" y1="358.1" x2="171.3" y2="366.6" stroke="#111" stroke-width="1.4"/>
<line x1="399.0" y1="631.1" x2="399.0" y2="622.6" stroke="#111" stroke-width="1.4"/>
<line x1="399.0" y1="358.1" x2="399.0" y2="366.6" stroke="#111" stroke-width="1.4"/>
<rect x="57.5" y="358.1" width="455.3" height="273.0" fill="none" stroke="#111" stroke-width="1.6"/>
<text x="58.1" y="644.7" font-size="13" text-anchor="middle" font-weight="normal" >-<tspan font-style="italic">π</tspan>/2</text>
<text x="170.9" y="644.7" font-size="13" text-anchor="middle" font-weight="normal" >-<tspan font-style="italic">π</tspan>/4</text>
<text x="285.1" y="643.8" font-size="12.8" text-anchor="middle" font-weight="normal" >0</text>
<text x="400.0" y="644.7" font-size="13" text-anchor="middle" font-weight="normal" ><tspan font-style="italic">π</tspan>/4</text>
<text x="510.6" y="644.7" font-size="13" text-anchor="middle" font-weight="normal" ><tspan font-style="italic">π</tspan>/2</text>
<text x="285.1" y="661.2" font-size="16" text-anchor="middle" font-weight="normal" >βp</text>
<text transform="translate(25.0,482.8) rotate(-90)" font-size="17" text-anchor="middle" font-weight="normal" textLength="125.5" lengthAdjust="spacingAndGlyphs">Quality Factor Q</text>
<text x="4.3" y="356.3" font-size="18.8" text-anchor="start" font-weight="normal" stroke-width="0.8" >(b)</text>
<polyline points="401.0,571.0 446.0,571.0" fill="none" stroke="#2b2f93" stroke-width="1.6" stroke-linejoin="round" stroke-dasharray="5,2.5"/>
<circle cx="422.3" cy="571.0" r="2.2" fill="#2b2f93" stroke="#2b2f93" stroke-width="0.9"/>
<text x="464.2" y="579.0" font-size="16.5" text-anchor="start" font-weight="normal" stroke-width="0.8" >Q</text>
<text x="476.8" y="581.5" font-size="8.5" text-anchor="start" font-weight="normal" >r</text>
<polyline points="401.0,591.2 446.0,591.2" fill="none" stroke="#15a04c" stroke-width="1.8" stroke-linejoin="round"/>
<circle cx="422.3" cy="591.2" r="2.2" fill="#15a04c" stroke="#15a04c" stroke-width="0.9"/>
<text x="464.2" y="599.6" font-size="16.5" text-anchor="start" font-weight="normal" stroke-width="0.8" >Q</text>
<text x="476.8" y="602.1" font-size="8.5" text-anchor="start" font-weight="bold" stroke-width="0.15" >D</text>
<polyline points="401.0,612.5 446.0,612.5" fill="none" stroke="#e8212b" stroke-width="2.2" stroke-linejoin="round"/>
<circle cx="422.3" cy="612.5" r="2.2" fill="#e8212b" stroke="#e8212b" stroke-width="0.9"/>
<text x="464.2" y="618.7" font-size="16.5" text-anchor="start" font-weight="normal" stroke-width="0.8" >Q</text>
<rect x="260.0" y="688.6" width="17.3" height="272.7" fill="#e6e7e8" stroke="none" stroke-width="0"/>
<rect x="277.3" y="688.6" width="14.9" height="272.7" fill="#d3d4d6" stroke="none" stroke-width="0"/>
<rect x="292.2" y="688.6" width="18.9" height="272.7" fill="#e6e7e8" stroke="none" stroke-width="0"/>
<line x1="260.2" y1="688.6" x2="260.2" y2="961.3" stroke="#111" stroke-width="1.1"/>
<line x1="277.3" y1="688.6" x2="277.3" y2="961.3" stroke="#111" stroke-width="1.1"/>
<line x1="292.2" y1="688.6" x2="292.2" y2="961.3" stroke="#111" stroke-width="1.1"/>
<line x1="311.1" y1="688.6" x2="311.1" y2="961.3" stroke="#111" stroke-width="1.1"/>
<line x1="285.0" y1="688.6" x2="285.0" y2="961.3" stroke="#111" stroke-width="1.9"/>
<polyline points="255.0,899.5 261.0,897.7 265.0,897.0 269.0,896.2 273.5,895.4 278.0,894.6 283.0,893.8 285.4,893.0 288.0,894.8 290.8,895.8 294.6,896.2 298.5,896.3 303.0,896.0 307.0,895.7 310.0,895.4" fill="none" stroke="#15a04c" stroke-width="2.6" stroke-linejoin="round" stroke-dasharray="3,0.8"/>
<polyline points="259.6,768.0 262.3,789.5 264.2,809.8 267.0,827.0 269.6,837.7 274.4,848.3 279.6,852.0 282.7,857.0 285.2,859.8" fill="none" stroke="#2b2f93" stroke-width="1.5" stroke-linejoin="round" stroke-dasharray="4,0.8"/>
<circle cx="259.6" cy="768.0" r="1.7" fill="#2b2f93" stroke="#2b2f93" stroke-width="0.9"/>
<circle cx="262.3" cy="789.5" r="1.7" fill="#2b2f93" stroke="#2b2f93" stroke-width="0.9"/>
<circle cx="264.2" cy="809.8" r="1.7" fill="#2b2f93" stroke="#2b2f93" stroke-width="0.9"/>
<circle cx="267.0" cy="827.0" r="1.7" fill="#2b2f93" stroke="#2b2f93" stroke-width="0.9"/>
<circle cx="269.6" cy="837.7" r="1.7" fill="#2b2f93" stroke="#2b2f93" stroke-width="0.9"/>
<circle cx="274.4" cy="848.3" r="1.7" fill="#2b2f93" stroke="#2b2f93" stroke-width="0.9"/>
<circle cx="279.6" cy="852.0" r="1.7" fill="#2b2f93" stroke="#2b2f93" stroke-width="0.9"/>
<circle cx="282.7" cy="857.0" r="1.7" fill="#2b2f93" stroke="#2b2f93" stroke-width="0.9"/>
<circle cx="285.2" cy="859.8" r="1.7" fill="#2b2f93" stroke="#2b2f93" stroke-width="0.9"/>
<polyline points="287.0,757.7 290.4,788.7 292.4,804.0 295.0,814.2 300.0,815.0 302.7,808.5 305.2,795.5 307.7,778.8 310.6,759.6" fill="none" stroke="#2b2f93" stroke-width="1.5" stroke-linejoin="round" stroke-dasharray="4,0.8"/>
<circle cx="287.0" cy="757.7" r="1.7" fill="#2b2f93" stroke="#2b2f93" stroke-width="0.9"/>
<circle cx="290.4" cy="788.7" r="1.7" fill="#2b2f93" stroke="#2b2f93" stroke-width="0.9"/>
<circle cx="292.4" cy="804.0" r="1.7" fill="#2b2f93" stroke="#2b2f93" stroke-width="0.9"/>
<circle cx="295.0" cy="814.2" r="1.7" fill="#2b2f93" stroke="#2b2f93" stroke-width="0.9"/>
<circle cx="300.0" cy="815.0" r="1.7" fill="#2b2f93" stroke="#2b2f93" stroke-width="0.9"/>
<circle cx="302.7" cy="808.5" r="1.7" fill="#2b2f93" stroke="#2b2f93" stroke-width="0.9"/>
<circle cx="305.2" cy="795.5" r="1.7" fill="#2b2f93" stroke="#2b2f93" stroke-width="0.9"/>
<circle cx="307.7" cy="778.8" r="1.7" fill="#2b2f93" stroke="#2b2f93" stroke-width="0.9"/>
<circle cx="310.6" cy="759.6" r="1.7" fill="#2b2f93" stroke="#2b2f93" stroke-width="0.9"/>
<polyline points="57.4,911.6 82.7,910.5 108.1,909.2 133.4,907.8 158.7,906.4 184.1,904.7 209.4,903.1 234.7,901.0 239.8,900.6 244.9,900.3 250.0,900.0 255.0,899.8 260.0,900.0 263.8,902.7 268.7,905.0 274.4,906.5 280.2,907.0 285.2,908.0" fill="none" stroke="#e8212b" stroke-width="1.9" stroke-linejoin="round"/>
<circle cx="57.4" cy="911.6" r="1.7" fill="#e8212b" stroke="#e8212b" stroke-width="0.9"/>
<circle cx="82.7" cy="910.5" r="1.7" fill="#e8212b" stroke="#e8212b" stroke-width="0.9"/>
<circle cx="108.1" cy="909.2" r="1.7" fill="#e8212b" stroke="#e8212b" stroke-width="0.9"/>
<circle cx="133.4" cy="907.8" r="1.7" fill="#e8212b" stroke="#e8212b" stroke-width="0.9"/>
<circle cx="158.7" cy="906.4" r="1.7" fill="#e8212b" stroke="#e8212b" stroke-width="0.9"/>
<circle cx="184.1" cy="904.7" r="1.7" fill="#e8212b" stroke="#e8212b" stroke-width="0.9"/>
<circle cx="209.4" cy="903.1" r="1.7" fill="#e8212b" stroke="#e8212b" stroke-width="0.9"/>
<circle cx="234.7" cy="901.0" r="1.7" fill="#e8212b" stroke="#e8212b" stroke-width="0.9"/>
<circle cx="239.8" cy="900.6" r="1.7" fill="#e8212b" stroke="#e8212b" stroke-width="0.9"/>
<circle cx="244.9" cy="900.3" r="1.7" fill="#e8212b" stroke="#e8212b" stroke-width="0.9"/>
<circle cx="250.0" cy="900.0" r="1.7" fill="#e8212b" stroke="#e8212b" stroke-width="0.9"/>
<circle cx="255.0" cy="899.8" r="1.7" fill="#e8212b" stroke="#e8212b" stroke-width="0.9"/>
<circle cx="260.0" cy="900.0" r="1.7" fill="#e8212b" stroke="#e8212b" stroke-width="0.9"/>
<circle cx="263.8" cy="902.7" r="1.7" fill="#e8212b" stroke="#e8212b" stroke-width="0.9"/>
<circle cx="268.7" cy="905.0" r="1.7" fill="#e8212b" stroke="#e8212b" stroke-width="0.9"/>
<circle cx="274.4" cy="906.5" r="1.7" fill="#e8212b" stroke="#e8212b" stroke-width="0.9"/>
<circle cx="280.2" cy="907.0" r="1.7" fill="#e8212b" stroke="#e8212b" stroke-width="0.9"/>
<circle cx="285.2" cy="908.0" r="1.7" fill="#e8212b" stroke="#e8212b" stroke-width="0.9"/>
<polyline points="285.2,890.6 287.9,895.4 290.8,899.2 294.6,900.8 298.5,900.8 303.3,898.8 308.0,896.3 311.0,895.5 316.0,895.3 321.0,895.1 326.0,895.0 331.0,894.8 336.1,894.5 361.4,893.2 386.7,891.9 412.1,890.6 437.4,889.6 462.7,888.7 488.1,887.9 513.4,887.0" fill="none" stroke="#e8212b" stroke-width="1.9" stroke-linejoin="round"/>
<circle cx="285.2" cy="890.6" r="1.7" fill="#e8212b" stroke="#e8212b" stroke-width="0.9"/>
<circle cx="287.9" cy="895.4" r="1.7" fill="#e8212b" stroke="#e8212b" stroke-width="0.9"/>
<circle cx="290.8" cy="899.2" r="1.7" fill="#e8212b" stroke="#e8212b" stroke-width="0.9"/>
<circle cx="294.6" cy="900.8" r="1.7" fill="#e8212b" stroke="#e8212b" stroke-width="0.9"/>
<circle cx="298.5" cy="900.8" r="1.7" fill="#e8212b" stroke="#e8212b" stroke-width="0.9"/>
<circle cx="303.3" cy="898.8" r="1.7" fill="#e8212b" stroke="#e8212b" stroke-width="0.9"/>
<circle cx="308.0" cy="896.3" r="1.7" fill="#e8212b" stroke="#e8212b" stroke-width="0.9"/>
<circle cx="311.0" cy="895.5" r="1.7" fill="#e8212b" stroke="#e8212b" stroke-width="0.9"/>
<circle cx="316.0" cy="895.3" r="1.7" fill="#e8212b" stroke="#e8212b" stroke-width="0.9"/>
<circle cx="321.0" cy="895.1" r="1.7" fill="#e8212b" stroke="#e8212b" stroke-width="0.9"/>
<circle cx="326.0" cy="895.0" r="1.7" fill="#e8212b" stroke="#e8212b" stroke-width="0.9"/>
<circle cx="331.0" cy="894.8" r="1.7" fill="#e8212b" stroke="#e8212b" stroke-width="0.9"/>
<circle cx="336.1" cy="894.5" r="1.7" fill="#e8212b" stroke="#e8212b" stroke-width="0.9"/>
<circle cx="361.4" cy="893.2" r="1.7" fill="#e8212b" stroke="#e8212b" stroke-width="0.9"/>
<circle cx="386.7" cy="891.9" r="1.7" fill="#e8212b" stroke="#e8212b" stroke-width="0.9"/>
<circle cx="412.1" cy="890.6" r="1.7" fill="#e8212b" stroke="#e8212b" stroke-width="0.9"/>
<circle cx="437.4" cy="889.6" r="1.7" fill="#e8212b" stroke="#e8212b" stroke-width="0.9"/>
<circle cx="462.7" cy="888.7" r="1.7" fill="#e8212b" stroke="#e8212b" stroke-width="0.9"/>
<circle cx="488.1" cy="887.9" r="1.7" fill="#e8212b" stroke="#e8212b" stroke-width="0.9"/>
<circle cx="513.4" cy="887.0" r="1.7" fill="#e8212b" stroke="#e8212b" stroke-width="0.9"/>
<text x="73.6" y="714.5" font-size="14.8" text-anchor="start" font-weight="normal" stroke-width="0.8" >Design C</text>
<rect x="363.4" y="703.8" width="146.9" height="109.8" fill="#fff" stroke="none" stroke-width="0"/>
<polyline points="363.5,733.8 371.0,734.8 387.3,736.0 403.3,738.0 406.0,738.4 408.6,738.8 411.3,739.2 414.0,739.5 416.7,739.6 418.7,738.6 420.6,737.0 422.0,734.3 423.5,731.3 425.4,726.5 427.3,724.5 429.2,723.0 431.0,721.3 433.0,719.8 434.6,718.3 436.0,717.0" fill="none" stroke="#e8212b" stroke-width="1.7" stroke-linejoin="round"/>
<circle cx="363.5" cy="733.8" r="1.4" fill="#e8212b" stroke="#e8212b" stroke-width="0.9"/>
<circle cx="371.0" cy="734.8" r="1.4" fill="#e8212b" stroke="#e8212b" stroke-width="0.9"/>
<circle cx="387.3" cy="736.0" r="1.4" fill="#e8212b" stroke="#e8212b" stroke-width="0.9"/>
<circle cx="403.3" cy="738.0" r="1.4" fill="#e8212b" stroke="#e8212b" stroke-width="0.9"/>
<circle cx="406.0" cy="738.4" r="1.4" fill="#e8212b" stroke="#e8212b" stroke-width="0.9"/>
<circle cx="408.6" cy="738.8" r="1.4" fill="#e8212b" stroke="#e8212b" stroke-width="0.9"/>
<circle cx="411.3" cy="739.2" r="1.4" fill="#e8212b" stroke="#e8212b" stroke-width="0.9"/>
<circle cx="414.0" cy="739.5" r="1.4" fill="#e8212b" stroke="#e8212b" stroke-width="0.9"/>
<circle cx="416.7" cy="739.6" r="1.4" fill="#e8212b" stroke="#e8212b" stroke-width="0.9"/>
<circle cx="418.7" cy="738.6" r="1.4" fill="#e8212b" stroke="#e8212b" stroke-width="0.9"/>
<circle cx="420.6" cy="737.0" r="1.4" fill="#e8212b" stroke="#e8212b" stroke-width="0.9"/>
<circle cx="422.0" cy="734.3" r="1.4" fill="#e8212b" stroke="#e8212b" stroke-width="0.9"/>
<circle cx="423.5" cy="731.3" r="1.4" fill="#e8212b" stroke="#e8212b" stroke-width="0.9"/>
<circle cx="425.4" cy="726.5" r="1.4" fill="#e8212b" stroke="#e8212b" stroke-width="0.9"/>
<circle cx="427.3" cy="724.5" r="1.4" fill="#e8212b" stroke="#e8212b" stroke-width="0.9"/>
<circle cx="429.2" cy="723.0" r="1.4" fill="#e8212b" stroke="#e8212b" stroke-width="0.9"/>
<circle cx="431.0" cy="721.3" r="1.4" fill="#e8212b" stroke="#e8212b" stroke-width="0.9"/>
<circle cx="433.0" cy="719.8" r="1.4" fill="#e8212b" stroke="#e8212b" stroke-width="0.9"/>
<circle cx="434.6" cy="718.3" r="1.4" fill="#e8212b" stroke="#e8212b" stroke-width="0.9"/>
<circle cx="436.0" cy="717.0" r="1.4" fill="#e8212b" stroke="#e8212b" stroke-width="0.9"/>
<polyline points="436.3,744.8 437.2,742.0 438.3,739.0 439.6,736.0 441.0,733.3 442.5,731.8 444.0,731.3 445.5,731.8 447.0,733.3 449.8,737.0 451.7,738.8 453.7,740.0 456.0,740.8 458.5,741.3 461.0,741.6 464.0,741.8 467.0,741.9 470.0,742.0 485.4,742.4 501.7,742.9 510.0,743.4" fill="none" stroke="#e8212b" stroke-width="1.7" stroke-linejoin="round"/>
<circle cx="436.3" cy="744.8" r="1.4" fill="#e8212b" stroke="#e8212b" stroke-width="0.9"/>
<circle cx="437.2" cy="742.0" r="1.4" fill="#e8212b" stroke="#e8212b" stroke-width="0.9"/>
<circle cx="438.3" cy="739.0" r="1.4" fill="#e8212b" stroke="#e8212b" stroke-width="0.9"/>
<circle cx="439.6" cy="736.0" r="1.4" fill="#e8212b" stroke="#e8212b" stroke-width="0.9"/>
<circle cx="441.0" cy="733.3" r="1.4" fill="#e8212b" stroke="#e8212b" stroke-width="0.9"/>
<circle cx="442.5" cy="731.8" r="1.4" fill="#e8212b" stroke="#e8212b" stroke-width="0.9"/>
<circle cx="444.0" cy="731.3" r="1.4" fill="#e8212b" stroke="#e8212b" stroke-width="0.9"/>
<circle cx="445.5" cy="731.8" r="1.4" fill="#e8212b" stroke="#e8212b" stroke-width="0.9"/>
<circle cx="447.0" cy="733.3" r="1.4" fill="#e8212b" stroke="#e8212b" stroke-width="0.9"/>
<circle cx="449.8" cy="737.0" r="1.4" fill="#e8212b" stroke="#e8212b" stroke-width="0.9"/>
<circle cx="451.7" cy="738.8" r="1.4" fill="#e8212b" stroke="#e8212b" stroke-width="0.9"/>
<circle cx="453.7" cy="740.0" r="1.4" fill="#e8212b" stroke="#e8212b" stroke-width="0.9"/>
<circle cx="456.0" cy="740.8" r="1.4" fill="#e8212b" stroke="#e8212b" stroke-width="0.9"/>
<circle cx="458.5" cy="741.3" r="1.4" fill="#e8212b" stroke="#e8212b" stroke-width="0.9"/>
<circle cx="461.0" cy="741.6" r="1.4" fill="#e8212b" stroke="#e8212b" stroke-width="0.9"/>
<circle cx="464.0" cy="741.8" r="1.4" fill="#e8212b" stroke="#e8212b" stroke-width="0.9"/>
<circle cx="467.0" cy="741.9" r="1.4" fill="#e8212b" stroke="#e8212b" stroke-width="0.9"/>
<circle cx="470.0" cy="742.0" r="1.4" fill="#e8212b" stroke="#e8212b" stroke-width="0.9"/>
<circle cx="485.4" cy="742.4" r="1.4" fill="#e8212b" stroke="#e8212b" stroke-width="0.9"/>
<circle cx="501.7" cy="742.9" r="1.4" fill="#e8212b" stroke="#e8212b" stroke-width="0.9"/>
<circle cx="510.0" cy="743.4" r="1.4" fill="#e8212b" stroke="#e8212b" stroke-width="0.9"/>
<polyline points="363.5,813.3 371.0,813.2 387.3,813.2 403.3,813.2 406.0,813.2 408.6,813.2 411.3,813.2 414.0,813.1 416.7,812.9 418.7,812.0 420.6,810.0 422.0,807.4 423.5,804.4 425.4,799.6 427.3,796.0 429.2,792.9 431.0,790.8 433.0,789.0 434.6,787.0 436.0,785.0" fill="none" stroke="#2b2f93" stroke-width="1.3" stroke-linejoin="round"/>
<circle cx="371.0" cy="813.2" r="1.35" fill="#2b2f93" stroke="#2b2f93" stroke-width="0.9"/>
<circle cx="387.3" cy="813.2" r="1.35" fill="#2b2f93" stroke="#2b2f93" stroke-width="0.9"/>
<circle cx="403.3" cy="813.2" r="1.35" fill="#2b2f93" stroke="#2b2f93" stroke-width="0.9"/>
<circle cx="406.0" cy="813.2" r="1.35" fill="#2b2f93" stroke="#2b2f93" stroke-width="0.9"/>
<circle cx="408.6" cy="813.2" r="1.35" fill="#2b2f93" stroke="#2b2f93" stroke-width="0.9"/>
<circle cx="411.3" cy="813.2" r="1.35" fill="#2b2f93" stroke="#2b2f93" stroke-width="0.9"/>
<circle cx="414.0" cy="813.1" r="1.35" fill="#2b2f93" stroke="#2b2f93" stroke-width="0.9"/>
<circle cx="416.7" cy="812.9" r="1.35" fill="#2b2f93" stroke="#2b2f93" stroke-width="0.9"/>
<circle cx="418.7" cy="812.0" r="1.35" fill="#2b2f93" stroke="#2b2f93" stroke-width="0.9"/>
<circle cx="420.6" cy="810.0" r="1.35" fill="#2b2f93" stroke="#2b2f93" stroke-width="0.9"/>
<circle cx="422.0" cy="807.4" r="1.35" fill="#2b2f93" stroke="#2b2f93" stroke-width="0.9"/>
<circle cx="423.5" cy="804.4" r="1.35" fill="#2b2f93" stroke="#2b2f93" stroke-width="0.9"/>
<circle cx="425.4" cy="799.6" r="1.35" fill="#2b2f93" stroke="#2b2f93" stroke-width="0.9"/>
<circle cx="427.3" cy="796.0" r="1.35" fill="#2b2f93" stroke="#2b2f93" stroke-width="0.9"/>
<circle cx="429.2" cy="792.9" r="1.35" fill="#2b2f93" stroke="#2b2f93" stroke-width="0.9"/>
<circle cx="431.0" cy="790.8" r="1.35" fill="#2b2f93" stroke="#2b2f93" stroke-width="0.9"/>
<circle cx="433.0" cy="789.0" r="1.35" fill="#2b2f93" stroke="#2b2f93" stroke-width="0.9"/>
<circle cx="434.6" cy="787.0" r="1.35" fill="#2b2f93" stroke="#2b2f93" stroke-width="0.9"/>
<circle cx="436.0" cy="785.0" r="1.35" fill="#2b2f93" stroke="#2b2f93" stroke-width="0.9"/>
<polyline points="436.5,813.4 437.2,812.6 438.3,811.0 439.6,808.6 441.0,806.3 442.5,805.0 444.0,804.4 445.5,804.6 447.0,805.4 449.8,809.0 451.7,811.2 453.7,812.7 456.0,813.2 458.5,813.4 461.0,813.4 464.0,813.4 467.0,813.4 470.0,813.4 485.4,813.4 501.7,813.4 510.0,813.4" fill="none" stroke="#2b2f93" stroke-width="1.3" stroke-linejoin="round"/>
<circle cx="436.5" cy="813.4" r="1.35" fill="#2b2f93" stroke="#2b2f93" stroke-width="0.9"/>
<circle cx="437.2" cy="812.6" r="1.35" fill="#2b2f93" stroke="#2b2f93" stroke-width="0.9"/>
<circle cx="438.3" cy="811.0" r="1.35" fill="#2b2f93" stroke="#2b2f93" stroke-width="0.9"/>
<circle cx="439.6" cy="808.6" r="1.35" fill="#2b2f93" stroke="#2b2f93" stroke-width="0.9"/>
<circle cx="441.0" cy="806.3" r="1.35" fill="#2b2f93" stroke="#2b2f93" stroke-width="0.9"/>
<circle cx="442.5" cy="805.0" r="1.35" fill="#2b2f93" stroke="#2b2f93" stroke-width="0.9"/>
<circle cx="444.0" cy="804.4" r="1.35" fill="#2b2f93" stroke="#2b2f93" stroke-width="0.9"/>
<circle cx="445.5" cy="804.6" r="1.35" fill="#2b2f93" stroke="#2b2f93" stroke-width="0.9"/>
<circle cx="447.0" cy="805.4" r="1.35" fill="#2b2f93" stroke="#2b2f93" stroke-width="0.9"/>
<circle cx="449.8" cy="809.0" r="1.35" fill="#2b2f93" stroke="#2b2f93" stroke-width="0.9"/>
<circle cx="451.7" cy="811.2" r="1.35" fill="#2b2f93" stroke="#2b2f93" stroke-width="0.9"/>
<circle cx="453.7" cy="812.7" r="1.35" fill="#2b2f93" stroke="#2b2f93" stroke-width="0.9"/>
<circle cx="456.0" cy="813.2" r="1.35" fill="#2b2f93" stroke="#2b2f93" stroke-width="0.9"/>
<circle cx="458.5" cy="813.4" r="1.35" fill="#2b2f93" stroke="#2b2f93" stroke-width="0.9"/>
<circle cx="461.0" cy="813.4" r="1.35" fill="#2b2f93" stroke="#2b2f93" stroke-width="0.9"/>
<circle cx="464.0" cy="813.4" r="1.35" fill="#2b2f93" stroke="#2b2f93" stroke-width="0.9"/>
<circle cx="467.0" cy="813.4" r="1.35" fill="#2b2f93" stroke="#2b2f93" stroke-width="0.9"/>
<circle cx="470.0" cy="813.4" r="1.35" fill="#2b2f93" stroke="#2b2f93" stroke-width="0.9"/>
<circle cx="485.4" cy="813.4" r="1.35" fill="#2b2f93" stroke="#2b2f93" stroke-width="0.9"/>
<circle cx="501.7" cy="813.4" r="1.35" fill="#2b2f93" stroke="#2b2f93" stroke-width="0.9"/>
<line x1="436.3" y1="703.8" x2="436.3" y2="813.6" stroke="#222" stroke-width="1.2"/>
<rect x="363.4" y="703.8" width="146.9" height="109.8" fill="none" stroke="#444" stroke-width="1.2"/>
<line x1="363.4" y1="758.7" x2="366.4" y2="758.7" stroke="#333" stroke-width="1"/>
<line x1="510.3" y1="758.7" x2="507.3" y2="758.7" stroke="#333" stroke-width="1"/>
<line x1="399.6" y1="703.8" x2="399.6" y2="706.3" stroke="#333" stroke-width="1"/>
<line x1="473.0" y1="703.8" x2="473.0" y2="706.3" stroke="#333" stroke-width="1"/>
<line x1="399.6" y1="813.6" x2="399.6" y2="811.1" stroke="#333" stroke-width="1"/>
<line x1="473.0" y1="813.6" x2="473.0" y2="811.1" stroke="#333" stroke-width="1"/>
<text x="359.5" y="708.4" font-size="12" text-anchor="end" font-weight="normal" >10</text>
<text x="359.8" y="702.5" font-size="7" text-anchor="start" font-weight="normal" >4</text>
<text x="360.3" y="818.8" font-size="12" text-anchor="end" font-weight="normal" >0</text>
<text transform="translate(350.5,757.0) rotate(-90)" font-size="11.5" text-anchor="middle" font-weight="bold" stroke-width="0.15" >α (cm<tspan dy="-4" font-size="8">-1</tspan><tspan dy="4"> )</tspan></text>
<text x="353.5" y="828.8" font-size="13" text-anchor="middle" font-weight="normal" >−<tspan font-style="italic">π</tspan>/4</text>
<text x="431.7" y="827.5" font-size="12" text-anchor="middle" font-weight="bold" stroke-width="0.15" >0</text>
<text x="505.5" y="828.8" font-size="13" text-anchor="middle" font-weight="normal" ><tspan font-style="italic">π</tspan>/4</text>
<text x="436.5" y="842.3" font-size="11.5" text-anchor="middle" font-weight="bold" stroke-width="0.15" >β p</text>
<text x="472.3" y="738.2" font-size="17" text-anchor="middle" font-weight="normal" stroke-width="0.8" >α</text>
<text x="465.6" y="808.5" font-size="17" text-anchor="middle" font-weight="normal" stroke-width="0.8" >α</text>
<text x="471.5" y="810.5" font-size="8" text-anchor="start" font-weight="bold" stroke-width="0.15" >r</text>
<line x1="57.5" y1="933.9" x2="62.3" y2="933.9" stroke="#111" stroke-width="1.3"/>
<line x1="512.8" y1="933.9" x2="508.1" y2="933.9" stroke="#111" stroke-width="1.3"/>
<line x1="57.5" y1="917.9" x2="62.3" y2="917.9" stroke="#111" stroke-width="1.3"/>
<line x1="512.8" y1="917.9" x2="508.1" y2="917.9" stroke="#111" stroke-width="1.3"/>
<line x1="57.5" y1="906.6" x2="62.3" y2="906.6" stroke="#111" stroke-width="1.3"/>
<line x1="512.8" y1="906.6" x2="508.1" y2="906.6" stroke="#111" stroke-width="1.3"/>
<line x1="57.5" y1="897.8" x2="62.3" y2="897.8" stroke="#111" stroke-width="1.3"/>
<line x1="512.8" y1="897.8" x2="508.1" y2="897.8" stroke="#111" stroke-width="1.3"/>
<line x1="57.5" y1="890.6" x2="62.3" y2="890.6" stroke="#111" stroke-width="1.3"/>
<line x1="512.8" y1="890.6" x2="508.1" y2="890.6" stroke="#111" stroke-width="1.3"/>
<line x1="57.5" y1="884.5" x2="62.3" y2="884.5" stroke="#111" stroke-width="1.3"/>
<line x1="512.8" y1="884.5" x2="508.1" y2="884.5" stroke="#111" stroke-width="1.3"/>
<line x1="57.5" y1="879.2" x2="62.3" y2="879.2" stroke="#111" stroke-width="1.3"/>
<line x1="512.8" y1="879.2" x2="508.1" y2="879.2" stroke="#111" stroke-width="1.3"/>
<line x1="57.5" y1="874.6" x2="62.3" y2="874.6" stroke="#111" stroke-width="1.3"/>
<line x1="512.8" y1="874.6" x2="508.1" y2="874.6" stroke="#111" stroke-width="1.3"/>
<text x="48.8" y="966.5" font-size="12.6" text-anchor="end" font-weight="normal" >10</text>
<text x="49.3" y="960.3" font-size="10" text-anchor="start" font-weight="normal" >1</text>
<line x1="57.5" y1="870.4" x2="66.5" y2="870.4" stroke="#111" stroke-width="1.3"/>
<line x1="512.8" y1="870.4" x2="503.8" y2="870.4" stroke="#111" stroke-width="1.3"/>
<line x1="57.5" y1="843.0" x2="62.3" y2="843.0" stroke="#111" stroke-width="1.3"/>
<line x1="512.8" y1="843.0" x2="508.1" y2="843.0" stroke="#111" stroke-width="1.3"/>
<line x1="57.5" y1="827.0" x2="62.3" y2="827.0" stroke="#111" stroke-width="1.3"/>
<line x1="512.8" y1="827.0" x2="508.1" y2="827.0" stroke="#111" stroke-width="1.3"/>
<line x1="57.5" y1="815.7" x2="62.3" y2="815.7" stroke="#111" stroke-width="1.3"/>
<line x1="512.8" y1="815.7" x2="508.1" y2="815.7" stroke="#111" stroke-width="1.3"/>
<line x1="57.5" y1="806.9" x2="62.3" y2="806.9" stroke="#111" stroke-width="1.3"/>
<line x1="512.8" y1="806.9" x2="509.6" y2="806.9" stroke="#111" stroke-width="1.3"/>
<line x1="57.5" y1="799.7" x2="62.3" y2="799.7" stroke="#111" stroke-width="1.3"/>
<line x1="512.8" y1="799.7" x2="509.6" y2="799.7" stroke="#111" stroke-width="1.3"/>
<line x1="57.5" y1="793.6" x2="62.3" y2="793.6" stroke="#111" stroke-width="1.3"/>
<line x1="512.8" y1="793.6" x2="509.6" y2="793.6" stroke="#111" stroke-width="1.3"/>
<line x1="57.5" y1="788.3" x2="62.3" y2="788.3" stroke="#111" stroke-width="1.3"/>
<line x1="512.8" y1="788.3" x2="509.6" y2="788.3" stroke="#111" stroke-width="1.3"/>
<line x1="57.5" y1="783.7" x2="62.3" y2="783.7" stroke="#111" stroke-width="1.3"/>
<line x1="512.8" y1="783.7" x2="509.6" y2="783.7" stroke="#111" stroke-width="1.3"/>
<text x="48.8" y="875.6" font-size="12.6" text-anchor="end" font-weight="normal" >10</text>
<text x="49.3" y="869.4" font-size="10" text-anchor="start" font-weight="normal" >2</text>
<line x1="57.5" y1="779.5" x2="66.5" y2="779.5" stroke="#111" stroke-width="1.3"/>
<line x1="512.8" y1="779.5" x2="509.6" y2="779.5" stroke="#111" stroke-width="1.3"/>
<line x1="57.5" y1="752.1" x2="62.3" y2="752.1" stroke="#111" stroke-width="1.3"/>
<line x1="512.8" y1="752.1" x2="509.6" y2="752.1" stroke="#111" stroke-width="1.3"/>
<line x1="57.5" y1="736.1" x2="62.3" y2="736.1" stroke="#111" stroke-width="1.3"/>
<line x1="512.8" y1="736.1" x2="509.6" y2="736.1" stroke="#111" stroke-width="1.3"/>
<line x1="57.5" y1="724.8" x2="62.3" y2="724.8" stroke="#111" stroke-width="1.3"/>
<line x1="512.8" y1="724.8" x2="509.6" y2="724.8" stroke="#111" stroke-width="1.3"/>
<line x1="57.5" y1="716.0" x2="62.3" y2="716.0" stroke="#111" stroke-width="1.3"/>
<line x1="512.8" y1="716.0" x2="509.6" y2="716.0" stroke="#111" stroke-width="1.3"/>
<line x1="57.5" y1="708.8" x2="62.3" y2="708.8" stroke="#111" stroke-width="1.3"/>
<line x1="512.8" y1="708.8" x2="509.6" y2="708.8" stroke="#111" stroke-width="1.3"/>
<line x1="57.5" y1="702.7" x2="62.3" y2="702.7" stroke="#111" stroke-width="1.3"/>
<line x1="512.8" y1="702.7" x2="508.1" y2="702.7" stroke="#111" stroke-width="1.3"/>
<line x1="57.5" y1="697.4" x2="62.3" y2="697.4" stroke="#111" stroke-width="1.3"/>
<line x1="512.8" y1="697.4" x2="508.1" y2="697.4" stroke="#111" stroke-width="1.3"/>
<line x1="57.5" y1="692.8" x2="62.3" y2="692.8" stroke="#111" stroke-width="1.3"/>
<line x1="512.8" y1="692.8" x2="508.1" y2="692.8" stroke="#111" stroke-width="1.3"/>
<text x="48.8" y="784.7" font-size="12.6" text-anchor="end" font-weight="normal" >10</text>
<text x="49.3" y="778.5" font-size="10" text-anchor="start" font-weight="normal" >3</text>
<text x="48.8" y="693.8" font-size="12.6" text-anchor="end" font-weight="normal" >10</text>
<text x="49.3" y="687.6" font-size="10" text-anchor="start" font-weight="normal" >4</text>
<line x1="171.3" y1="961.3" x2="171.3" y2="952.8" stroke="#111" stroke-width="1.4"/>
<line x1="171.3" y1="688.6" x2="171.3" y2="697.1" stroke="#111" stroke-width="1.4"/>
<line x1="399.0" y1="961.3" x2="399.0" y2="952.8" stroke="#111" stroke-width="1.4"/>
<line x1="399.0" y1="688.6" x2="399.0" y2="697.1" stroke="#111" stroke-width="1.4"/>
<rect x="57.5" y="688.6" width="455.3" height="272.7" fill="none" stroke="#111" stroke-width="1.6"/>
<text x="58.1" y="974.8" font-size="13" text-anchor="middle" font-weight="normal" >-<tspan font-style="italic">π</tspan>/2</text>
<text x="170.9" y="974.8" font-size="13" text-anchor="middle" font-weight="normal" >-<tspan font-style="italic">π</tspan>/4</text>
<text x="285.1" y="974.3" font-size="12.8" text-anchor="middle" font-weight="normal" >0</text>
<text x="400.0" y="974.8" font-size="13" text-anchor="middle" font-weight="normal" ><tspan font-style="italic">π</tspan>/4</text>
<text x="510.6" y="974.8" font-size="13" text-anchor="middle" font-weight="normal" ><tspan font-style="italic">π</tspan>/2</text>
<text x="285.1" y="990.8" font-size="16" text-anchor="middle" font-weight="normal" >βp</text>
<text transform="translate(22.8,821.2) rotate(-90)" font-size="17" text-anchor="middle" font-weight="normal" textLength="124" lengthAdjust="spacingAndGlyphs">Quality Factor Q</text>
<text x="2.2" y="689.6" font-size="18.3" text-anchor="start" font-weight="normal" stroke-width="0.8" >(c)</text>
<polyline points="406.4,907.0 451.4,907.0" fill="none" stroke="#2b2f93" stroke-width="1.5" stroke-linejoin="round" stroke-dasharray="5,1.5"/>
<circle cx="428.5" cy="907.0" r="2.2" fill="#2b2f93" stroke="#2b2f93" stroke-width="0.9"/>
<text x="470.0" y="915.8" font-size="16.5" text-anchor="start" font-weight="normal" stroke-width="0.8" >Q</text>
<text x="482.6" y="918.3" font-size="8.5" text-anchor="start" font-weight="normal" >r</text>
<polyline points="406.4,927.0 451.4,927.0" fill="none" stroke="#15a04c" stroke-width="1.6" stroke-linejoin="round" stroke-dasharray="1.5,1.2"/>
<circle cx="428.5" cy="927.0" r="2.2" fill="#15a04c" stroke="#15a04c" stroke-width="0.9"/>
<text x="470.0" y="936.0" font-size="16.5" text-anchor="start" font-weight="normal" stroke-width="0.8" >Q</text>
<text x="482.6" y="938.5" font-size="8.5" text-anchor="start" font-weight="bold" stroke-width="0.15" >D</text>
<polyline points="406.4,948.0 451.4,948.0" fill="none" stroke="#e8212b" stroke-width="2.2" stroke-linejoin="round"/>
<circle cx="428.5" cy="948.0" r="2.2" fill="#e8212b" stroke="#e8212b" stroke-width="0.9"/>
<text x="470.0" y="954.9" font-size="16.5" text-anchor="start" font-weight="normal" stroke-width="0.8" >Q</text>
</svg>
</body></html>
